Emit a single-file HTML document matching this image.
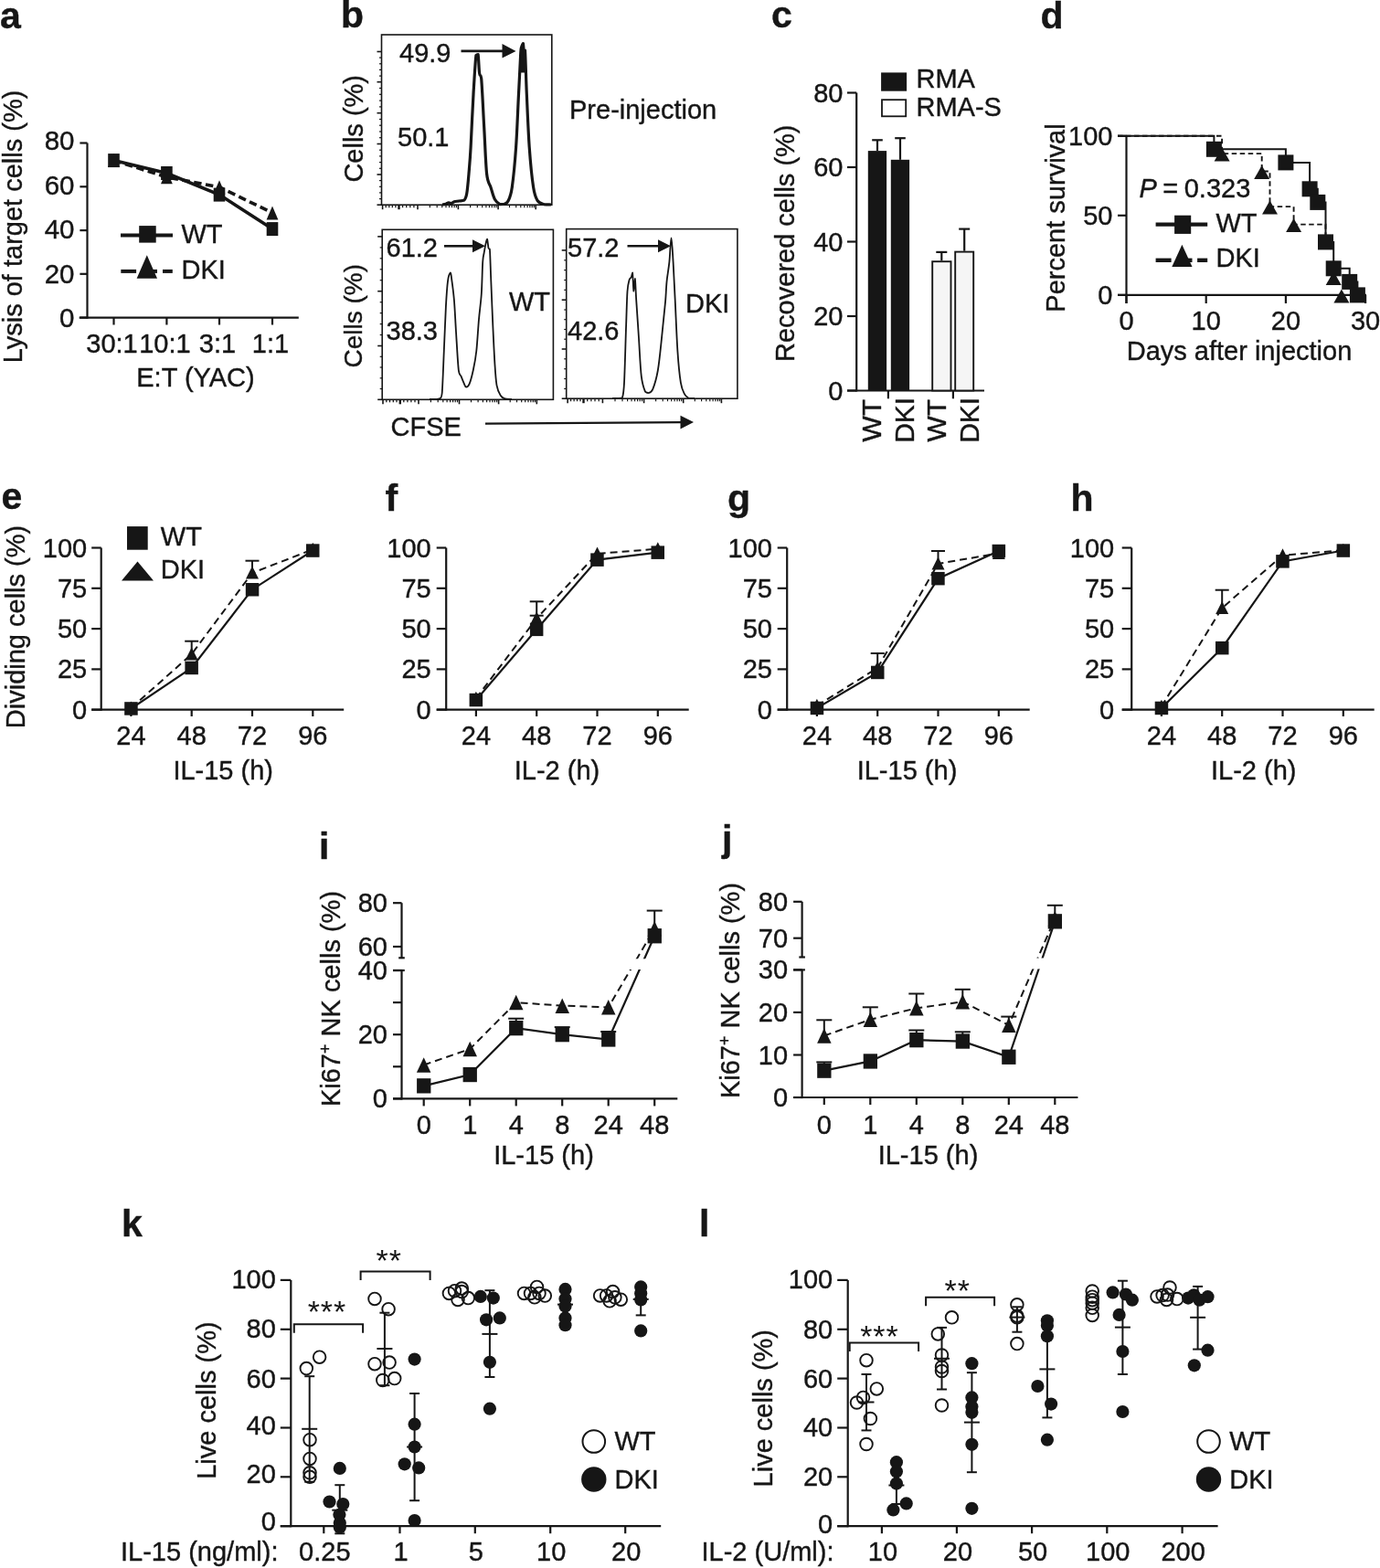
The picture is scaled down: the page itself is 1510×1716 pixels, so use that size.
<!DOCTYPE html>
<html><head><meta charset="utf-8"><title>Figure</title>
<style>html,body{margin:0;padding:0;background:#fff;}svg{display:block;}.ast{stroke-width:0;}</style></head>
<body>
<svg width="1510" height="1716" viewBox="0 0 1510 1716" font-family="'Liberation Sans', Arial, Helvetica, sans-serif" fill="#161616" stroke="#161616">
<rect x="0" y="0" width="1510" height="1716" fill="#fff" stroke="none"/>
<g>
<text stroke-width="0.4" x="0.0" y="31.0" font-size="41" font-weight="bold">a</text>
<line x1="95.5" y1="156.5" x2="95.5" y2="348.7" stroke-width="2.2" stroke-linecap="butt"/>
<line x1="86.7" y1="347.6" x2="326.8" y2="347.6" stroke-width="2.2" stroke-linecap="butt"/>
<line x1="87.4" y1="347.6" x2="95.5" y2="347.6" stroke-width="2.2" stroke-linecap="butt"/>
<text stroke-width="0.4" x="81.5" y="357.9" font-size="29.5" text-anchor="end">0</text>
<line x1="87.4" y1="299.8" x2="95.5" y2="299.8" stroke-width="2.2" stroke-linecap="butt"/>
<text stroke-width="0.4" x="81.5" y="309.6" font-size="29.5" text-anchor="end">20</text>
<line x1="87.4" y1="252.1" x2="95.5" y2="252.1" stroke-width="2.2" stroke-linecap="butt"/>
<text stroke-width="0.4" x="81.5" y="261.2" font-size="29.5" text-anchor="end">40</text>
<line x1="87.4" y1="204.3" x2="95.5" y2="204.3" stroke-width="2.2" stroke-linecap="butt"/>
<text stroke-width="0.4" x="81.5" y="212.5" font-size="29.5" text-anchor="end">60</text>
<line x1="87.4" y1="156.5" x2="95.5" y2="156.5" stroke-width="2.2" stroke-linecap="butt"/>
<text stroke-width="0.4" x="81.5" y="164.1" font-size="29.5" text-anchor="end">80</text>
<line x1="124.5" y1="347.6" x2="124.5" y2="355.5" stroke-width="2.2" stroke-linecap="butt"/>
<line x1="182.4" y1="347.6" x2="182.4" y2="355.5" stroke-width="2.2" stroke-linecap="butt"/>
<line x1="240.0" y1="347.6" x2="240.0" y2="355.5" stroke-width="2.2" stroke-linecap="butt"/>
<line x1="298.0" y1="347.6" x2="298.0" y2="355.5" stroke-width="2.2" stroke-linecap="butt"/>
<text stroke-width="0.4" x="122.5" y="385.5" font-size="29" text-anchor="middle">30:1</text>
<text stroke-width="0.4" x="180.4" y="385.5" font-size="29" text-anchor="middle">10:1</text>
<text stroke-width="0.4" x="238.0" y="385.5" font-size="29" text-anchor="middle">3:1</text>
<text stroke-width="0.4" x="296.0" y="385.5" font-size="29" text-anchor="middle">1:1</text>
<text stroke-width="0.4" x="214.0" y="422.5" font-size="29" text-anchor="middle">E:T (YAC)</text>
<text stroke-width="0.4" x="24.0" y="248.0" font-size="29" text-anchor="middle" transform="rotate(-90 24.0 248.0)">Lysis of target cells (%)</text>
<polyline points="124.5,175.6 182.4,193.8 240.0,204.8 298.0,232.9" fill="none" stroke-width="3.6" stroke-dasharray="8.5,4.5" stroke-linejoin="miter"/>
<polygon points="124.5,168.1 130.9,183.1 118.1,183.1" fill="#161616" stroke="none"/>
<polygon points="182.4,186.3 188.8,201.3 176.0,201.3" fill="#161616" stroke="none"/>
<polygon points="240.0,197.3 246.4,212.3 233.6,212.3" fill="#161616" stroke="none"/>
<polygon points="298.0,225.4 304.4,240.4 291.6,240.4" fill="#161616" stroke="none"/>
<polyline points="124.5,175.6 182.4,189.5 240.0,213.1 298.0,250.6" fill="none" stroke-width="3.6" stroke-linejoin="miter"/>
<rect x="118.2" y="168.1" width="12.6" height="15.0" fill="#161616" stroke="none" stroke-width="0"/>
<rect x="176.1" y="182.0" width="12.6" height="15.0" fill="#161616" stroke="none" stroke-width="0"/>
<rect x="233.7" y="205.6" width="12.6" height="15.0" fill="#161616" stroke="none" stroke-width="0"/>
<rect x="291.7" y="243.1" width="12.6" height="15.0" fill="#161616" stroke="none" stroke-width="0"/>
<line x1="132.0" y1="257.6" x2="189.0" y2="257.6" stroke-width="4" stroke-linecap="butt"/>
<rect x="152.2" y="247.1" width="18.5" height="18.5" fill="#161616" stroke="none"/>
<line x1="132.3" y1="296.9" x2="149.1" y2="296.9" stroke-width="4" stroke-linecap="butt"/>
<line x1="160.0" y1="296.9" x2="172.0" y2="296.9" stroke-width="4" stroke-linecap="butt"/>
<line x1="178.0" y1="296.9" x2="188.8" y2="296.9" stroke-width="4" stroke-linecap="butt"/>
<polygon points="160.8,279.2 172.0,304.8 149.6,304.8" fill="#161616" stroke="none"/>
<text stroke-width="0.4" x="198.5" y="266.0" font-size="29">WT</text>
<text stroke-width="0.4" x="198.5" y="305.0" font-size="29">DKI</text>
<text stroke-width="0.4" x="373.0" y="30.0" font-size="41" font-weight="bold">b</text>
<rect x="417.5" y="38" width="186.29999999999995" height="186.2" fill="none" stroke-width="1.6"/>
<line x1="412.5" y1="56.5" x2="417.5" y2="56.5" stroke-width="1.6" stroke-linecap="butt"/>
<line x1="412.5" y1="89.7" x2="417.5" y2="89.7" stroke-width="1.6" stroke-linecap="butt"/>
<line x1="412.5" y1="123.7" x2="417.5" y2="123.7" stroke-width="1.6" stroke-linecap="butt"/>
<line x1="412.5" y1="157.5" x2="417.5" y2="157.5" stroke-width="1.6" stroke-linecap="butt"/>
<line x1="412.5" y1="191.0" x2="417.5" y2="191.0" stroke-width="1.6" stroke-linecap="butt"/>
<line x1="412.5" y1="224.2" x2="417.5" y2="224.2" stroke-width="1.6" stroke-linecap="butt"/>
<line x1="415.0" y1="63.1" x2="417.5" y2="63.1" stroke-width="1.2" stroke-linecap="butt"/>
<line x1="415.0" y1="69.8" x2="417.5" y2="69.8" stroke-width="1.2" stroke-linecap="butt"/>
<line x1="415.0" y1="76.4" x2="417.5" y2="76.4" stroke-width="1.2" stroke-linecap="butt"/>
<line x1="415.0" y1="83.1" x2="417.5" y2="83.1" stroke-width="1.2" stroke-linecap="butt"/>
<line x1="415.0" y1="96.5" x2="417.5" y2="96.5" stroke-width="1.2" stroke-linecap="butt"/>
<line x1="415.0" y1="103.3" x2="417.5" y2="103.3" stroke-width="1.2" stroke-linecap="butt"/>
<line x1="415.0" y1="110.1" x2="417.5" y2="110.1" stroke-width="1.2" stroke-linecap="butt"/>
<line x1="415.0" y1="116.9" x2="417.5" y2="116.9" stroke-width="1.2" stroke-linecap="butt"/>
<line x1="415.0" y1="130.5" x2="417.5" y2="130.5" stroke-width="1.2" stroke-linecap="butt"/>
<line x1="415.0" y1="137.2" x2="417.5" y2="137.2" stroke-width="1.2" stroke-linecap="butt"/>
<line x1="415.0" y1="144.0" x2="417.5" y2="144.0" stroke-width="1.2" stroke-linecap="butt"/>
<line x1="415.0" y1="150.7" x2="417.5" y2="150.7" stroke-width="1.2" stroke-linecap="butt"/>
<line x1="415.0" y1="164.2" x2="417.5" y2="164.2" stroke-width="1.2" stroke-linecap="butt"/>
<line x1="415.0" y1="170.9" x2="417.5" y2="170.9" stroke-width="1.2" stroke-linecap="butt"/>
<line x1="415.0" y1="177.6" x2="417.5" y2="177.6" stroke-width="1.2" stroke-linecap="butt"/>
<line x1="415.0" y1="184.3" x2="417.5" y2="184.3" stroke-width="1.2" stroke-linecap="butt"/>
<line x1="415.0" y1="197.6" x2="417.5" y2="197.6" stroke-width="1.2" stroke-linecap="butt"/>
<line x1="415.0" y1="204.3" x2="417.5" y2="204.3" stroke-width="1.2" stroke-linecap="butt"/>
<line x1="415.0" y1="210.9" x2="417.5" y2="210.9" stroke-width="1.2" stroke-linecap="butt"/>
<line x1="415.0" y1="217.6" x2="417.5" y2="217.6" stroke-width="1.2" stroke-linecap="butt"/>
<line x1="418.6" y1="224.2" x2="418.6" y2="229.2" stroke-width="1.6" stroke-linecap="butt"/>
<line x1="436.5" y1="224.2" x2="436.5" y2="229.2" stroke-width="2.4" stroke-linecap="butt"/>
<line x1="457.0" y1="224.2" x2="457.0" y2="229.2" stroke-width="1.6" stroke-linecap="butt"/>
<line x1="501.4" y1="224.2" x2="501.4" y2="229.2" stroke-width="1.6" stroke-linecap="butt"/>
<line x1="545.1" y1="224.2" x2="545.1" y2="229.2" stroke-width="1.6" stroke-linecap="butt"/>
<line x1="586.2" y1="224.2" x2="586.2" y2="229.2" stroke-width="1.6" stroke-linecap="butt"/>
<line x1="422.2" y1="224.2" x2="422.2" y2="227.2" stroke-width="1.3" stroke-linecap="butt"/>
<line x1="425.8" y1="224.2" x2="425.8" y2="227.2" stroke-width="1.3" stroke-linecap="butt"/>
<line x1="429.3" y1="224.2" x2="429.3" y2="227.2" stroke-width="1.3" stroke-linecap="butt"/>
<line x1="432.9" y1="224.2" x2="432.9" y2="227.2" stroke-width="1.3" stroke-linecap="butt"/>
<line x1="440.6" y1="224.2" x2="440.6" y2="227.2" stroke-width="1.3" stroke-linecap="butt"/>
<line x1="444.7" y1="224.2" x2="444.7" y2="227.2" stroke-width="1.3" stroke-linecap="butt"/>
<line x1="448.8" y1="224.2" x2="448.8" y2="227.2" stroke-width="1.3" stroke-linecap="butt"/>
<line x1="452.9" y1="224.2" x2="452.9" y2="227.2" stroke-width="1.3" stroke-linecap="butt"/>
<line x1="470.4" y1="224.2" x2="470.4" y2="227.2" stroke-width="1.2" stroke-linecap="butt"/>
<line x1="478.2" y1="224.2" x2="478.2" y2="227.2" stroke-width="1.2" stroke-linecap="butt"/>
<line x1="483.7" y1="224.2" x2="483.7" y2="227.2" stroke-width="1.2" stroke-linecap="butt"/>
<line x1="488.0" y1="224.2" x2="488.0" y2="227.2" stroke-width="1.2" stroke-linecap="butt"/>
<line x1="491.5" y1="224.2" x2="491.5" y2="227.2" stroke-width="1.2" stroke-linecap="butt"/>
<line x1="494.5" y1="224.2" x2="494.5" y2="227.2" stroke-width="1.2" stroke-linecap="butt"/>
<line x1="497.1" y1="224.2" x2="497.1" y2="227.2" stroke-width="1.2" stroke-linecap="butt"/>
<line x1="499.4" y1="224.2" x2="499.4" y2="227.2" stroke-width="1.2" stroke-linecap="butt"/>
<line x1="514.6" y1="224.2" x2="514.6" y2="227.2" stroke-width="1.2" stroke-linecap="butt"/>
<line x1="522.3" y1="224.2" x2="522.3" y2="227.2" stroke-width="1.2" stroke-linecap="butt"/>
<line x1="527.7" y1="224.2" x2="527.7" y2="227.2" stroke-width="1.2" stroke-linecap="butt"/>
<line x1="531.9" y1="224.2" x2="531.9" y2="227.2" stroke-width="1.2" stroke-linecap="butt"/>
<line x1="535.4" y1="224.2" x2="535.4" y2="227.2" stroke-width="1.2" stroke-linecap="butt"/>
<line x1="538.3" y1="224.2" x2="538.3" y2="227.2" stroke-width="1.2" stroke-linecap="butt"/>
<line x1="540.9" y1="224.2" x2="540.9" y2="227.2" stroke-width="1.2" stroke-linecap="butt"/>
<line x1="543.1" y1="224.2" x2="543.1" y2="227.2" stroke-width="1.2" stroke-linecap="butt"/>
<line x1="557.5" y1="224.2" x2="557.5" y2="227.2" stroke-width="1.2" stroke-linecap="butt"/>
<line x1="564.7" y1="224.2" x2="564.7" y2="227.2" stroke-width="1.2" stroke-linecap="butt"/>
<line x1="569.8" y1="224.2" x2="569.8" y2="227.2" stroke-width="1.2" stroke-linecap="butt"/>
<line x1="573.8" y1="224.2" x2="573.8" y2="227.2" stroke-width="1.2" stroke-linecap="butt"/>
<line x1="577.1" y1="224.2" x2="577.1" y2="227.2" stroke-width="1.2" stroke-linecap="butt"/>
<line x1="579.8" y1="224.2" x2="579.8" y2="227.2" stroke-width="1.2" stroke-linecap="butt"/>
<line x1="582.2" y1="224.2" x2="582.2" y2="227.2" stroke-width="1.2" stroke-linecap="butt"/>
<line x1="584.3" y1="224.2" x2="584.3" y2="227.2" stroke-width="1.2" stroke-linecap="butt"/>
<path d="M484.0,224.0 C484.7,223.9 486.8,223.6 488.0,223.2 C489.2,222.8 490.0,221.9 491.0,221.8 C492.0,221.8 493.0,222.6 494.0,222.6 C495.0,222.4 495.7,221.2 497.0,220.8 C498.3,220.4 500.2,220.3 502.0,220.0 C503.8,219.7 506.4,220.0 507.8,219.2 C509.2,217.9 509.8,216.9 510.7,212.0 C511.6,207.1 512.3,198.5 513.0,190.0 C513.7,181.5 514.3,175.5 515.1,161.0 C515.9,146.5 517.0,119.5 518.0,102.8 C519.0,86.1 520.0,67.8 520.9,60.6 C521.8,59.5 522.5,59.5 523.1,59.5 C523.7,62.7 524.0,75.6 524.6,80.0 C525.2,84.4 525.9,80.0 526.7,86.0 C527.6,95.9 528.7,121.9 529.7,139.3 C530.7,156.7 531.4,179.4 532.6,190.3 C533.8,201.2 535.5,200.4 537.0,205.0 C538.5,209.6 539.6,214.8 541.3,217.9 C543.0,221.0 545.3,222.7 547.1,223.6 C548.9,223.6 550.5,223.6 552.0,223.2 C553.5,222.6 554.6,223.0 556.0,220.0 C557.4,217.0 558.9,214.8 560.3,205.0 C561.7,195.2 563.4,178.0 564.6,161.0 C565.8,144.0 566.6,119.8 567.5,102.8 C568.4,85.8 569.2,67.5 569.7,59.0 C570.2,52.0 570.0,53.9 570.5,52.0 C571.0,50.1 571.9,47.5 572.4,47.5 C572.9,49.2 573.1,60.8 573.5,62.0 C573.9,62.0 574.0,55.0 574.5,55.0 C575.0,61.8 575.5,85.1 576.3,102.8 C577.1,120.5 578.0,144.0 579.2,161.0 C580.4,178.0 582.1,195.1 583.6,204.8 C585.1,214.5 586.1,216.3 588.0,219.4 C589.9,222.5 592.7,222.8 595.2,223.6 C597.7,224.0 601.7,223.9 603.0,224.0" fill="none" stroke-width="3.2" stroke-linejoin="round"/>
<polygon points="568.6,79.5 569.6,56 571.6,47.6 573.9,48.3 575.2,79.5" fill="#161616" stroke="none"/>
<text stroke-width="0.4" x="437.0" y="68.0" font-size="29">49.9</text>
<text stroke-width="0.4" x="435.0" y="159.5" font-size="29">50.1</text>
<line x1="504.5" y1="55.9" x2="550.5" y2="55.9" stroke-width="2.6" stroke-linecap="butt"/>
<polygon points="564.5,55.9 549.5,48.1 549.5,63.6" fill="#161616" stroke="none"/>
<text stroke-width="0.4" x="623.0" y="129.5" font-size="29">Pre-injection</text>
<text stroke-width="0.4" x="397.0" y="140.8" font-size="29" text-anchor="middle" transform="rotate(-90 397.0 140.8)">Cells (%)</text>
<rect x="418.2" y="251.3" width="187.2" height="186.0" fill="none" stroke-width="1.6"/>
<line x1="413.2" y1="258.9" x2="418.2" y2="258.9" stroke-width="1.6" stroke-linecap="butt"/>
<line x1="413.2" y1="318.7" x2="418.2" y2="318.7" stroke-width="1.6" stroke-linecap="butt"/>
<line x1="413.2" y1="378.5" x2="418.2" y2="378.5" stroke-width="1.6" stroke-linecap="butt"/>
<line x1="413.2" y1="437.3" x2="418.2" y2="437.3" stroke-width="1.6" stroke-linecap="butt"/>
<line x1="415.7" y1="270.9" x2="418.2" y2="270.9" stroke-width="1.2" stroke-linecap="butt"/>
<line x1="415.7" y1="282.8" x2="418.2" y2="282.8" stroke-width="1.2" stroke-linecap="butt"/>
<line x1="415.7" y1="294.8" x2="418.2" y2="294.8" stroke-width="1.2" stroke-linecap="butt"/>
<line x1="415.7" y1="306.7" x2="418.2" y2="306.7" stroke-width="1.2" stroke-linecap="butt"/>
<line x1="415.7" y1="330.7" x2="418.2" y2="330.7" stroke-width="1.2" stroke-linecap="butt"/>
<line x1="415.7" y1="342.6" x2="418.2" y2="342.6" stroke-width="1.2" stroke-linecap="butt"/>
<line x1="415.7" y1="354.6" x2="418.2" y2="354.6" stroke-width="1.2" stroke-linecap="butt"/>
<line x1="415.7" y1="366.5" x2="418.2" y2="366.5" stroke-width="1.2" stroke-linecap="butt"/>
<line x1="415.7" y1="390.3" x2="418.2" y2="390.3" stroke-width="1.2" stroke-linecap="butt"/>
<line x1="415.7" y1="402.0" x2="418.2" y2="402.0" stroke-width="1.2" stroke-linecap="butt"/>
<line x1="415.7" y1="413.8" x2="418.2" y2="413.8" stroke-width="1.2" stroke-linecap="butt"/>
<line x1="415.7" y1="425.5" x2="418.2" y2="425.5" stroke-width="1.2" stroke-linecap="butt"/>
<line x1="419.0" y1="437.3" x2="419.0" y2="442.3" stroke-width="1.6" stroke-linecap="butt"/>
<line x1="437.8" y1="437.3" x2="437.8" y2="442.3" stroke-width="2.4" stroke-linecap="butt"/>
<line x1="458.0" y1="437.3" x2="458.0" y2="442.3" stroke-width="1.6" stroke-linecap="butt"/>
<line x1="502.5" y1="437.3" x2="502.5" y2="442.3" stroke-width="1.6" stroke-linecap="butt"/>
<line x1="545.6" y1="437.3" x2="545.6" y2="442.3" stroke-width="1.6" stroke-linecap="butt"/>
<line x1="587.3" y1="437.3" x2="587.3" y2="442.3" stroke-width="1.6" stroke-linecap="butt"/>
<line x1="422.8" y1="437.3" x2="422.8" y2="440.3" stroke-width="1.3" stroke-linecap="butt"/>
<line x1="426.5" y1="437.3" x2="426.5" y2="440.3" stroke-width="1.3" stroke-linecap="butt"/>
<line x1="430.3" y1="437.3" x2="430.3" y2="440.3" stroke-width="1.3" stroke-linecap="butt"/>
<line x1="434.0" y1="437.3" x2="434.0" y2="440.3" stroke-width="1.3" stroke-linecap="butt"/>
<line x1="441.8" y1="437.3" x2="441.8" y2="440.3" stroke-width="1.3" stroke-linecap="butt"/>
<line x1="445.9" y1="437.3" x2="445.9" y2="440.3" stroke-width="1.3" stroke-linecap="butt"/>
<line x1="449.9" y1="437.3" x2="449.9" y2="440.3" stroke-width="1.3" stroke-linecap="butt"/>
<line x1="454.0" y1="437.3" x2="454.0" y2="440.3" stroke-width="1.3" stroke-linecap="butt"/>
<line x1="471.4" y1="437.3" x2="471.4" y2="440.3" stroke-width="1.2" stroke-linecap="butt"/>
<line x1="479.2" y1="437.3" x2="479.2" y2="440.3" stroke-width="1.2" stroke-linecap="butt"/>
<line x1="484.8" y1="437.3" x2="484.8" y2="440.3" stroke-width="1.2" stroke-linecap="butt"/>
<line x1="489.1" y1="437.3" x2="489.1" y2="440.3" stroke-width="1.2" stroke-linecap="butt"/>
<line x1="492.6" y1="437.3" x2="492.6" y2="440.3" stroke-width="1.2" stroke-linecap="butt"/>
<line x1="495.6" y1="437.3" x2="495.6" y2="440.3" stroke-width="1.2" stroke-linecap="butt"/>
<line x1="498.2" y1="437.3" x2="498.2" y2="440.3" stroke-width="1.2" stroke-linecap="butt"/>
<line x1="500.5" y1="437.3" x2="500.5" y2="440.3" stroke-width="1.2" stroke-linecap="butt"/>
<line x1="515.5" y1="437.3" x2="515.5" y2="440.3" stroke-width="1.2" stroke-linecap="butt"/>
<line x1="523.1" y1="437.3" x2="523.1" y2="440.3" stroke-width="1.2" stroke-linecap="butt"/>
<line x1="528.4" y1="437.3" x2="528.4" y2="440.3" stroke-width="1.2" stroke-linecap="butt"/>
<line x1="532.6" y1="437.3" x2="532.6" y2="440.3" stroke-width="1.2" stroke-linecap="butt"/>
<line x1="536.0" y1="437.3" x2="536.0" y2="440.3" stroke-width="1.2" stroke-linecap="butt"/>
<line x1="538.9" y1="437.3" x2="538.9" y2="440.3" stroke-width="1.2" stroke-linecap="butt"/>
<line x1="541.4" y1="437.3" x2="541.4" y2="440.3" stroke-width="1.2" stroke-linecap="butt"/>
<line x1="543.6" y1="437.3" x2="543.6" y2="440.3" stroke-width="1.2" stroke-linecap="butt"/>
<line x1="558.2" y1="437.3" x2="558.2" y2="440.3" stroke-width="1.2" stroke-linecap="butt"/>
<line x1="565.5" y1="437.3" x2="565.5" y2="440.3" stroke-width="1.2" stroke-linecap="butt"/>
<line x1="570.7" y1="437.3" x2="570.7" y2="440.3" stroke-width="1.2" stroke-linecap="butt"/>
<line x1="574.7" y1="437.3" x2="574.7" y2="440.3" stroke-width="1.2" stroke-linecap="butt"/>
<line x1="578.0" y1="437.3" x2="578.0" y2="440.3" stroke-width="1.2" stroke-linecap="butt"/>
<line x1="580.8" y1="437.3" x2="580.8" y2="440.3" stroke-width="1.2" stroke-linecap="butt"/>
<line x1="583.3" y1="437.3" x2="583.3" y2="440.3" stroke-width="1.2" stroke-linecap="butt"/>
<line x1="585.4" y1="437.3" x2="585.4" y2="440.3" stroke-width="1.2" stroke-linecap="butt"/>
<path d="M470.0,437.0 C471.3,437.0 476.1,437.0 478.0,436.8 C479.9,436.6 480.7,436.8 481.6,436.0 C482.6,434.9 483.0,436.0 483.7,430.0 C484.4,421.3 485.1,399.8 485.8,384.0 C486.5,368.2 487.2,348.1 487.9,335.4 C488.6,322.7 489.2,313.8 490.0,307.6 C490.8,301.5 492.1,299.0 492.8,298.5 C493.5,298.5 493.4,299.8 494.1,304.8 C494.8,309.8 496.1,318.7 496.9,328.4 C497.7,338.1 498.2,350.4 499.0,363.2 C499.8,376.0 500.9,396.9 501.8,405.0 C502.7,411.9 503.7,409.6 504.6,411.9 C505.5,414.2 506.5,416.9 507.4,418.9 C508.3,420.9 509.1,423.5 510.1,423.7 C511.1,423.7 512.3,423.3 513.6,420.2 C514.9,417.1 516.5,411.0 517.8,405.0 C519.1,399.0 520.3,393.3 521.3,384.0 C522.3,374.7 523.1,359.7 524.0,349.3 C524.9,338.9 526.1,331.9 526.8,321.5 C527.5,311.1 527.7,294.1 528.2,286.7 C528.7,279.3 529.0,280.5 529.6,277.0 C530.2,273.5 531.1,268.4 531.7,265.9 C532.3,263.3 532.6,261.7 533.1,261.7 C533.6,262.6 534.0,269.5 534.5,271.4 C535.0,272.8 535.4,271.4 535.9,272.8 C536.4,278.8 536.7,293.7 537.3,307.6 C537.9,321.5 538.6,341.2 539.3,356.3 C540.0,371.4 540.7,387.1 541.4,398.0 C542.1,408.9 542.5,415.8 543.5,421.6 C544.5,427.4 546.3,430.4 547.7,432.8 C549.1,435.2 549.9,435.5 551.9,436.2 C553.9,436.9 558.6,436.9 560.0,437.0" fill="none" stroke-width="1.8" stroke-linejoin="round"/>
<text stroke-width="0.4" x="422.5" y="281.2" font-size="29">61.2</text>
<text stroke-width="0.4" x="422.5" y="371.8" font-size="29">38.3</text>
<line x1="486.0" y1="269.3" x2="518.0" y2="269.3" stroke-width="2.6" stroke-linecap="butt"/>
<polygon points="531.0,269.3 517.0,262.3 517.0,276.3" fill="#161616" stroke="none"/>
<text stroke-width="0.4" x="557.0" y="339.8" font-size="29">WT</text>
<rect x="619.7" y="250.6" width="187.19999999999993" height="185.6" fill="none" stroke-width="1.6"/>
<line x1="614.7" y1="273.9" x2="619.7" y2="273.9" stroke-width="1.6" stroke-linecap="butt"/>
<line x1="614.7" y1="328.2" x2="619.7" y2="328.2" stroke-width="1.6" stroke-linecap="butt"/>
<line x1="614.7" y1="382.0" x2="619.7" y2="382.0" stroke-width="1.6" stroke-linecap="butt"/>
<line x1="614.7" y1="436.2" x2="619.7" y2="436.2" stroke-width="1.6" stroke-linecap="butt"/>
<line x1="617.2" y1="284.8" x2="619.7" y2="284.8" stroke-width="1.2" stroke-linecap="butt"/>
<line x1="617.2" y1="295.6" x2="619.7" y2="295.6" stroke-width="1.2" stroke-linecap="butt"/>
<line x1="617.2" y1="306.5" x2="619.7" y2="306.5" stroke-width="1.2" stroke-linecap="butt"/>
<line x1="617.2" y1="317.3" x2="619.7" y2="317.3" stroke-width="1.2" stroke-linecap="butt"/>
<line x1="617.2" y1="339.0" x2="619.7" y2="339.0" stroke-width="1.2" stroke-linecap="butt"/>
<line x1="617.2" y1="349.7" x2="619.7" y2="349.7" stroke-width="1.2" stroke-linecap="butt"/>
<line x1="617.2" y1="360.5" x2="619.7" y2="360.5" stroke-width="1.2" stroke-linecap="butt"/>
<line x1="617.2" y1="371.2" x2="619.7" y2="371.2" stroke-width="1.2" stroke-linecap="butt"/>
<line x1="617.2" y1="392.8" x2="619.7" y2="392.8" stroke-width="1.2" stroke-linecap="butt"/>
<line x1="617.2" y1="403.7" x2="619.7" y2="403.7" stroke-width="1.2" stroke-linecap="butt"/>
<line x1="617.2" y1="414.5" x2="619.7" y2="414.5" stroke-width="1.2" stroke-linecap="butt"/>
<line x1="617.2" y1="425.4" x2="619.7" y2="425.4" stroke-width="1.2" stroke-linecap="butt"/>
<line x1="621.1" y1="436.2" x2="621.1" y2="441.2" stroke-width="1.6" stroke-linecap="butt"/>
<line x1="638.5" y1="436.2" x2="638.5" y2="441.2" stroke-width="2.4" stroke-linecap="butt"/>
<line x1="659.4" y1="436.2" x2="659.4" y2="441.2" stroke-width="1.6" stroke-linecap="butt"/>
<line x1="704.6" y1="436.2" x2="704.6" y2="441.2" stroke-width="1.6" stroke-linecap="butt"/>
<line x1="747.7" y1="436.2" x2="747.7" y2="441.2" stroke-width="1.6" stroke-linecap="butt"/>
<line x1="789.4" y1="436.2" x2="789.4" y2="441.2" stroke-width="1.6" stroke-linecap="butt"/>
<line x1="624.6" y1="436.2" x2="624.6" y2="439.2" stroke-width="1.3" stroke-linecap="butt"/>
<line x1="628.1" y1="436.2" x2="628.1" y2="439.2" stroke-width="1.3" stroke-linecap="butt"/>
<line x1="631.5" y1="436.2" x2="631.5" y2="439.2" stroke-width="1.3" stroke-linecap="butt"/>
<line x1="635.0" y1="436.2" x2="635.0" y2="439.2" stroke-width="1.3" stroke-linecap="butt"/>
<line x1="642.7" y1="436.2" x2="642.7" y2="439.2" stroke-width="1.3" stroke-linecap="butt"/>
<line x1="646.9" y1="436.2" x2="646.9" y2="439.2" stroke-width="1.3" stroke-linecap="butt"/>
<line x1="651.0" y1="436.2" x2="651.0" y2="439.2" stroke-width="1.3" stroke-linecap="butt"/>
<line x1="655.2" y1="436.2" x2="655.2" y2="439.2" stroke-width="1.3" stroke-linecap="butt"/>
<line x1="673.0" y1="436.2" x2="673.0" y2="439.2" stroke-width="1.2" stroke-linecap="butt"/>
<line x1="681.0" y1="436.2" x2="681.0" y2="439.2" stroke-width="1.2" stroke-linecap="butt"/>
<line x1="686.6" y1="436.2" x2="686.6" y2="439.2" stroke-width="1.2" stroke-linecap="butt"/>
<line x1="691.0" y1="436.2" x2="691.0" y2="439.2" stroke-width="1.2" stroke-linecap="butt"/>
<line x1="694.6" y1="436.2" x2="694.6" y2="439.2" stroke-width="1.2" stroke-linecap="butt"/>
<line x1="697.6" y1="436.2" x2="697.6" y2="439.2" stroke-width="1.2" stroke-linecap="butt"/>
<line x1="700.2" y1="436.2" x2="700.2" y2="439.2" stroke-width="1.2" stroke-linecap="butt"/>
<line x1="702.5" y1="436.2" x2="702.5" y2="439.2" stroke-width="1.2" stroke-linecap="butt"/>
<line x1="717.6" y1="436.2" x2="717.6" y2="439.2" stroke-width="1.2" stroke-linecap="butt"/>
<line x1="725.2" y1="436.2" x2="725.2" y2="439.2" stroke-width="1.2" stroke-linecap="butt"/>
<line x1="730.5" y1="436.2" x2="730.5" y2="439.2" stroke-width="1.2" stroke-linecap="butt"/>
<line x1="734.7" y1="436.2" x2="734.7" y2="439.2" stroke-width="1.2" stroke-linecap="butt"/>
<line x1="738.1" y1="436.2" x2="738.1" y2="439.2" stroke-width="1.2" stroke-linecap="butt"/>
<line x1="741.0" y1="436.2" x2="741.0" y2="439.2" stroke-width="1.2" stroke-linecap="butt"/>
<line x1="743.5" y1="436.2" x2="743.5" y2="439.2" stroke-width="1.2" stroke-linecap="butt"/>
<line x1="745.7" y1="436.2" x2="745.7" y2="439.2" stroke-width="1.2" stroke-linecap="butt"/>
<line x1="760.3" y1="436.2" x2="760.3" y2="439.2" stroke-width="1.2" stroke-linecap="butt"/>
<line x1="767.6" y1="436.2" x2="767.6" y2="439.2" stroke-width="1.2" stroke-linecap="butt"/>
<line x1="772.8" y1="436.2" x2="772.8" y2="439.2" stroke-width="1.2" stroke-linecap="butt"/>
<line x1="776.8" y1="436.2" x2="776.8" y2="439.2" stroke-width="1.2" stroke-linecap="butt"/>
<line x1="780.1" y1="436.2" x2="780.1" y2="439.2" stroke-width="1.2" stroke-linecap="butt"/>
<line x1="782.9" y1="436.2" x2="782.9" y2="439.2" stroke-width="1.2" stroke-linecap="butt"/>
<line x1="785.4" y1="436.2" x2="785.4" y2="439.2" stroke-width="1.2" stroke-linecap="butt"/>
<line x1="787.5" y1="436.2" x2="787.5" y2="439.2" stroke-width="1.2" stroke-linecap="butt"/>
<path d="M670.0,436.0 C671.3,436.0 676.2,435.9 678.0,435.8 C679.8,435.7 680.1,435.8 680.9,435.3 C681.7,432.5 682.3,432.1 683.0,418.9 C683.7,405.7 684.5,373.0 685.1,356.3 C685.7,339.6 685.9,327.1 686.5,318.7 C687.1,310.3 687.9,308.8 688.6,306.2 C689.3,303.6 690.1,304.7 690.7,303.4 C691.3,302.1 691.7,298.5 692.1,298.5 C692.5,301.1 693.0,317.6 693.4,318.7 C693.8,318.7 694.3,304.8 694.8,304.8 C695.3,306.4 695.5,317.5 696.2,328.4 C696.9,339.3 698.1,356.3 699.0,370.2 C699.9,384.1 700.6,402.2 701.8,411.9 C703.0,421.6 704.7,425.6 706.0,428.6 C707.3,430.0 708.0,430.0 709.4,430.0 C710.8,429.5 712.5,430.0 714.3,425.8 C716.0,421.6 718.3,414.3 719.9,405.0 C721.5,395.7 722.9,380.6 724.0,370.2 C725.1,359.8 726.1,349.4 726.8,342.4 C727.5,335.4 727.7,334.2 728.2,328.4 C728.7,322.6 728.9,314.6 729.6,307.6 C730.3,300.7 731.6,294.6 732.4,286.7 C733.2,278.8 733.8,260.3 734.5,260.3 C735.2,260.3 735.9,275.4 736.6,286.7 C737.3,298.0 737.9,312.2 738.7,328.4 C739.5,344.6 740.4,369.0 741.4,384.1 C742.4,399.2 743.6,411.0 744.9,418.9 C746.2,426.8 747.7,428.6 749.1,431.4 C750.5,434.2 751.5,434.7 753.3,435.5 C755.1,436.0 758.9,435.9 760.0,436.0" fill="none" stroke-width="1.8" stroke-linejoin="round"/>
<text stroke-width="0.4" x="621.0" y="281.2" font-size="29">57.2</text>
<text stroke-width="0.4" x="621.0" y="372.2" font-size="29">42.6</text>
<line x1="686.5" y1="269.3" x2="721.0" y2="269.3" stroke-width="2.6" stroke-linecap="butt"/>
<polygon points="734.0,269.3 720.0,262.3 720.0,276.3" fill="#161616" stroke="none"/>
<text stroke-width="0.4" x="750.0" y="342.0" font-size="29">DKI</text>
<text stroke-width="0.4" x="396.5" y="345.8" font-size="28" text-anchor="middle" transform="rotate(-90 396.5 345.8)">Cells (%)</text>
<text stroke-width="0.4" x="427.5" y="477.0" font-size="29">CFSE</text>
<line x1="531" y1="463.6" x2="746" y2="462.2" stroke-width="2.2"/>
<polygon points="759,462 744.5,454.8 744.5,469.4" fill="#161616" stroke="none"/>
<text stroke-width="0.4" x="844.0" y="30.0" font-size="41" font-weight="bold">c</text>
<line x1="937.2" y1="101.5" x2="937.2" y2="428.6" stroke-width="2.2" stroke-linecap="butt"/>
<line x1="927.0" y1="427.5" x2="1077.0" y2="427.5" stroke-width="2.2" stroke-linecap="butt"/>
<line x1="927.0" y1="427.5" x2="937.2" y2="427.5" stroke-width="2.2" stroke-linecap="butt"/>
<text stroke-width="0.4" x="922.5" y="437.5" font-size="29" text-anchor="end">0</text>
<line x1="927.0" y1="346.0" x2="937.2" y2="346.0" stroke-width="2.2" stroke-linecap="butt"/>
<text stroke-width="0.4" x="922.5" y="356.0" font-size="29" text-anchor="end">20</text>
<line x1="927.0" y1="264.5" x2="937.2" y2="264.5" stroke-width="2.2" stroke-linecap="butt"/>
<text stroke-width="0.4" x="922.5" y="274.5" font-size="29" text-anchor="end">40</text>
<line x1="927.0" y1="183.0" x2="937.2" y2="183.0" stroke-width="2.2" stroke-linecap="butt"/>
<text stroke-width="0.4" x="922.5" y="193.0" font-size="29" text-anchor="end">60</text>
<line x1="927.0" y1="101.5" x2="937.2" y2="101.5" stroke-width="2.2" stroke-linecap="butt"/>
<text stroke-width="0.4" x="922.5" y="111.5" font-size="29" text-anchor="end">80</text>
<line x1="971.9" y1="427.5" x2="971.9" y2="436.3" stroke-width="2.2" stroke-linecap="butt"/>
<line x1="1042.9" y1="427.5" x2="1042.9" y2="436.3" stroke-width="2.2" stroke-linecap="butt"/>
<line x1="960.0" y1="165.1" x2="960.0" y2="153.3" stroke-width="2.2" stroke-linecap="butt"/>
<line x1="954.2" y1="153.3" x2="965.8" y2="153.3" stroke-width="2.2" stroke-linecap="butt"/>
<rect x="949.8" y="165.1" width="20.3" height="262.4" fill="#161616" stroke="none" stroke-width="0"/>
<line x1="985.0" y1="174.8" x2="985.0" y2="151.2" stroke-width="2.2" stroke-linecap="butt"/>
<line x1="979.2" y1="151.2" x2="990.8" y2="151.2" stroke-width="2.2" stroke-linecap="butt"/>
<rect x="974.8" y="174.8" width="20.3" height="252.7" fill="#161616" stroke="none" stroke-width="0"/>
<line x1="1030.3" y1="285.3" x2="1030.3" y2="275.9" stroke-width="2.2" stroke-linecap="butt"/>
<line x1="1024.3" y1="275.9" x2="1036.3" y2="275.9" stroke-width="2.2" stroke-linecap="butt"/>
<rect x="1020.2" y="286.2" width="20.3" height="141.3" fill="#f5f5f5" stroke="#161616" stroke-width="1.9"/>
<line x1="1055.2" y1="274.7" x2="1055.2" y2="250.6" stroke-width="2.2" stroke-linecap="butt"/>
<line x1="1049.2" y1="250.6" x2="1061.2" y2="250.6" stroke-width="2.2" stroke-linecap="butt"/>
<rect x="1045.2" y="275.6" width="20.0" height="151.9" fill="#f5f5f5" stroke="#161616" stroke-width="1.9"/>
<rect x="964.1" y="79.4" width="28.0" height="20.3" fill="#161616" stroke="none" stroke-width="0"/>
<rect x="965.0" y="109.2" width="26.2" height="18.1" fill="#fff" stroke="#161616" stroke-width="1.8"/>
<text stroke-width="0.4" x="1002.5" y="95.7" font-size="29">RMA</text>
<text stroke-width="0.4" x="1002.5" y="127.2" font-size="29">RMA-S</text>
<text stroke-width="0.4" x="869.0" y="266.2" font-size="29" text-anchor="middle" transform="rotate(-90 869.0 266.2)">Recovered cells (%)</text>
<text stroke-width="0.4" x="964.0" y="483.6" font-size="30" transform="rotate(-90 964.0 483.6)">WT</text>
<text stroke-width="0.4" x="999.6" y="484.8" font-size="30" transform="rotate(-90 999.6 484.8)">DKI</text>
<text stroke-width="0.4" x="1035.5" y="483.6" font-size="30" transform="rotate(-90 1035.5 483.6)">WT</text>
<text stroke-width="0.4" x="1071.1" y="484.8" font-size="30" transform="rotate(-90 1071.1 484.8)">DKI</text>
<text stroke-width="0.4" x="1138.5" y="31.0" font-size="41" font-weight="bold">d</text>
<line x1="1232.5" y1="148.8" x2="1232.5" y2="332.0" stroke-width="2.2" stroke-linecap="butt"/>
<line x1="1223.0" y1="322.9" x2="1495.0" y2="322.9" stroke-width="2.2" stroke-linecap="butt"/>
<line x1="1223.0" y1="322.9" x2="1232.5" y2="322.9" stroke-width="2.2" stroke-linecap="butt"/>
<text stroke-width="0.4" x="1217.5" y="332.9" font-size="29" text-anchor="end">0</text>
<line x1="1223.0" y1="235.8" x2="1232.5" y2="235.8" stroke-width="2.2" stroke-linecap="butt"/>
<text stroke-width="0.4" x="1217.5" y="245.8" font-size="29" text-anchor="end">50</text>
<line x1="1223.0" y1="148.8" x2="1232.5" y2="148.8" stroke-width="2.2" stroke-linecap="butt"/>
<text stroke-width="0.4" x="1217.5" y="158.8" font-size="29" text-anchor="end">100</text>
<line x1="1232.5" y1="322.9" x2="1232.5" y2="332.0" stroke-width="2.2" stroke-linecap="butt"/>
<text stroke-width="0.4" x="1232.5" y="360.5" font-size="29" text-anchor="middle">0</text>
<line x1="1319.7" y1="322.9" x2="1319.7" y2="332.0" stroke-width="2.2" stroke-linecap="butt"/>
<text stroke-width="0.4" x="1319.7" y="360.5" font-size="29" text-anchor="middle">10</text>
<line x1="1406.9" y1="322.9" x2="1406.9" y2="332.0" stroke-width="2.2" stroke-linecap="butt"/>
<text stroke-width="0.4" x="1406.9" y="360.5" font-size="29" text-anchor="middle">20</text>
<line x1="1494.1" y1="322.9" x2="1494.1" y2="332.0" stroke-width="2.2" stroke-linecap="butt"/>
<text stroke-width="0.4" x="1494.1" y="360.5" font-size="29" text-anchor="middle">30</text>
<text stroke-width="0.4" x="1356.0" y="394.0" font-size="29" text-anchor="middle">Days after injection</text>
<text stroke-width="0.4" x="1164.5" y="238.5" font-size="29" text-anchor="middle" transform="rotate(-90 1164.5 238.5)">Percent survival</text>
<polyline points="1223.0,148.8 1337.1,148.8 1337.1,168.1 1380.7,168.1 1380.7,187.5 1389.5,187.5 1389.5,226.1 1415.6,226.1 1415.6,245.6 1450.5,245.6 1450.5,270.7" fill="none" stroke-width="1.9" stroke-dasharray="5.5,3.5" stroke-linejoin="miter"/>
<polygon points="1337.1,161.6 1345.6,176.6 1328.6,176.6" fill="#161616" stroke="none"/>
<polygon points="1380.7,181.0 1389.2,196.0 1372.2,196.0" fill="#161616" stroke="none"/>
<polygon points="1389.5,219.6 1398.0,234.6 1381.0,234.6" fill="#161616" stroke="none"/>
<polygon points="1415.6,239.1 1424.1,254.1 1407.1,254.1" fill="#161616" stroke="none"/>
<polygon points="1459.2,297.1 1467.7,312.1 1450.7,312.1" fill="#161616" stroke="none"/>
<polygon points="1467.9,316.4 1476.4,331.4 1459.4,331.4" fill="#161616" stroke="none"/>
<polyline points="1223.0,148.8 1328.4,148.8 1328.4,163.3 1406.9,163.3 1406.9,177.9 1433.1,177.9 1433.1,206.8 1441.8,206.8 1441.8,221.4 1450.5,221.4 1450.5,264.9 1459.2,264.9 1459.2,293.8 1476.7,293.8 1476.7,308.4 1485.4,308.4 1485.4,322.9" fill="none" stroke-width="2" stroke-linejoin="miter"/>
<rect x="1319.9" y="154.8" width="17.0" height="17.0" fill="#161616" stroke="none"/>
<rect x="1398.4" y="169.4" width="17.0" height="17.0" fill="#161616" stroke="none"/>
<rect x="1424.6" y="198.3" width="17.0" height="17.0" fill="#161616" stroke="none"/>
<rect x="1433.3" y="212.9" width="17.0" height="17.0" fill="#161616" stroke="none"/>
<rect x="1442.0" y="256.4" width="17.0" height="17.0" fill="#161616" stroke="none"/>
<rect x="1450.7" y="285.3" width="17.0" height="17.0" fill="#161616" stroke="none"/>
<rect x="1468.2" y="299.9" width="17.0" height="17.0" fill="#161616" stroke="none"/>
<rect x="1476.9" y="314.4" width="17.0" height="17.0" fill="#161616" stroke="none"/>
<text stroke-width="0.4" x="1246.5" y="216.3" font-size="29" word-spacing="-1.6"><tspan font-style="italic">P</tspan> = 0.323</text>
<line x1="1264.6" y1="245.6" x2="1321.2" y2="245.6" stroke-width="4.4" stroke-linecap="butt"/>
<rect x="1285.1" y="235.7" width="18.1" height="20.2" fill="#161616" stroke="none" stroke-width="0"/>
<line x1="1264.6" y1="284.8" x2="1281.6" y2="284.8" stroke-width="4.4" stroke-linecap="butt"/>
<line x1="1296.0" y1="284.8" x2="1304.5" y2="284.8" stroke-width="4.4" stroke-linecap="butt"/>
<line x1="1310.1" y1="284.8" x2="1321.2" y2="284.8" stroke-width="4.4" stroke-linecap="butt"/>
<polygon points="1293.4,267.8 1304.5,292.0 1282.3,292.0" fill="#161616" stroke="none"/>
<text stroke-width="0.4" x="1330.5" y="254.0" font-size="29">WT</text>
<text stroke-width="0.4" x="1330.5" y="292.0" font-size="29">DKI</text>
<text stroke-width="0.4" x="1.5" y="557.0" font-size="41" font-weight="bold">e</text>
<line x1="110.7" y1="599.5" x2="110.7" y2="777.8" stroke-width="2.2" stroke-linecap="butt"/>
<line x1="100.2" y1="776.7" x2="376.2" y2="776.7" stroke-width="2.2" stroke-linecap="butt"/>
<line x1="100.2" y1="776.7" x2="110.7" y2="776.7" stroke-width="2.2" stroke-linecap="butt"/>
<text stroke-width="0.4" x="95.2" y="786.7" font-size="29" text-anchor="end">0</text>
<line x1="100.2" y1="732.4" x2="110.7" y2="732.4" stroke-width="2.2" stroke-linecap="butt"/>
<text stroke-width="0.4" x="95.2" y="742.4" font-size="29" text-anchor="end">25</text>
<line x1="100.2" y1="688.1" x2="110.7" y2="688.1" stroke-width="2.2" stroke-linecap="butt"/>
<text stroke-width="0.4" x="95.2" y="698.1" font-size="29" text-anchor="end">50</text>
<line x1="100.2" y1="643.8" x2="110.7" y2="643.8" stroke-width="2.2" stroke-linecap="butt"/>
<text stroke-width="0.4" x="95.2" y="653.8" font-size="29" text-anchor="end">75</text>
<line x1="100.2" y1="599.5" x2="110.7" y2="599.5" stroke-width="2.2" stroke-linecap="butt"/>
<text stroke-width="0.4" x="95.2" y="609.5" font-size="29" text-anchor="end">100</text>
<line x1="143.4" y1="776.7" x2="143.4" y2="784.0" stroke-width="2.2" stroke-linecap="butt"/>
<text stroke-width="0.4" x="143.4" y="814.5" font-size="29" text-anchor="middle">24</text>
<line x1="209.7" y1="776.7" x2="209.7" y2="784.0" stroke-width="2.2" stroke-linecap="butt"/>
<text stroke-width="0.4" x="209.7" y="814.5" font-size="29" text-anchor="middle">48</text>
<line x1="276.0" y1="776.7" x2="276.0" y2="784.0" stroke-width="2.2" stroke-linecap="butt"/>
<text stroke-width="0.4" x="276.0" y="814.5" font-size="29" text-anchor="middle">72</text>
<line x1="342.3" y1="776.7" x2="342.3" y2="784.0" stroke-width="2.2" stroke-linecap="butt"/>
<text stroke-width="0.4" x="342.3" y="814.5" font-size="29" text-anchor="middle">96</text>
<text stroke-width="0.4" x="244.2" y="852.5" font-size="29" text-anchor="middle">IL-15 (h)</text>
<line x1="209.7" y1="715.9" x2="209.7" y2="701.7" stroke-width="2" stroke-linecap="butt"/>
<line x1="202.2" y1="701.7" x2="217.2" y2="701.7" stroke-width="2" stroke-linecap="butt"/>
<line x1="276.0" y1="627.0" x2="276.0" y2="613.7" stroke-width="2" stroke-linecap="butt"/>
<line x1="268.5" y1="613.7" x2="283.5" y2="613.7" stroke-width="2" stroke-linecap="butt"/>
<polyline points="143.4,774.9 209.7,715.9 276.0,627.0 342.3,601.3" fill="none" stroke-width="2" stroke-dasharray="8,5" stroke-linejoin="miter"/>
<polygon points="143.4,767.4 150.4,781.4 136.4,781.4" fill="#161616" stroke="none"/>
<polygon points="209.7,708.4 216.7,722.4 202.7,722.4" fill="#161616" stroke="none"/>
<polygon points="276.0,619.5 283.0,633.5 269.0,633.5" fill="#161616" stroke="none"/>
<polygon points="342.3,593.8 349.3,607.8 335.3,607.8" fill="#161616" stroke="none"/>
<polyline points="143.4,775.5 209.7,731.0 276.0,645.2 342.3,602.5" fill="none" stroke-width="2.2" stroke-linejoin="miter"/>
<rect x="136.2" y="768.2" width="14.5" height="14.5" fill="#161616" stroke="none"/>
<rect x="202.4" y="723.7" width="14.5" height="14.5" fill="#161616" stroke="none"/>
<rect x="268.8" y="638.0" width="14.5" height="14.5" fill="#161616" stroke="none"/>
<rect x="335.0" y="595.3" width="14.5" height="14.5" fill="#161616" stroke="none"/>
<text stroke-width="0.4" x="27.0" y="686.0" font-size="29" text-anchor="middle" transform="rotate(-90 27.0 686.0)">Dividing cells (%)</text>
<rect x="139.0" y="576.1" width="22.7" height="25.6" fill="#161616" stroke="none" stroke-width="0"/>
<polygon points="150.5,614.5 168,635.5 133,635.5" fill="#161616" stroke="none"/>
<text stroke-width="0.4" x="175.8" y="597.2" font-size="29">WT</text>
<text stroke-width="0.4" x="175.8" y="632.8" font-size="29">DKI</text>
<text stroke-width="0.4" x="421.5" y="559.0" font-size="41" font-weight="bold">f</text>
<line x1="488.2" y1="599.5" x2="488.2" y2="777.8" stroke-width="2.2" stroke-linecap="butt"/>
<line x1="477.7" y1="776.7" x2="753.7" y2="776.7" stroke-width="2.2" stroke-linecap="butt"/>
<line x1="477.7" y1="776.7" x2="488.2" y2="776.7" stroke-width="2.2" stroke-linecap="butt"/>
<text stroke-width="0.4" x="471.7" y="786.7" font-size="29" text-anchor="end">0</text>
<line x1="477.7" y1="732.4" x2="488.2" y2="732.4" stroke-width="2.2" stroke-linecap="butt"/>
<text stroke-width="0.4" x="471.7" y="742.4" font-size="29" text-anchor="end">25</text>
<line x1="477.7" y1="688.1" x2="488.2" y2="688.1" stroke-width="2.2" stroke-linecap="butt"/>
<text stroke-width="0.4" x="471.7" y="698.1" font-size="29" text-anchor="end">50</text>
<line x1="477.7" y1="643.8" x2="488.2" y2="643.8" stroke-width="2.2" stroke-linecap="butt"/>
<text stroke-width="0.4" x="471.7" y="653.8" font-size="29" text-anchor="end">75</text>
<line x1="477.7" y1="599.5" x2="488.2" y2="599.5" stroke-width="2.2" stroke-linecap="butt"/>
<text stroke-width="0.4" x="471.7" y="609.5" font-size="29" text-anchor="end">100</text>
<line x1="520.9" y1="776.7" x2="520.9" y2="784.0" stroke-width="2.2" stroke-linecap="butt"/>
<text stroke-width="0.4" x="520.9" y="814.5" font-size="29" text-anchor="middle">24</text>
<line x1="587.2" y1="776.7" x2="587.2" y2="784.0" stroke-width="2.2" stroke-linecap="butt"/>
<text stroke-width="0.4" x="587.2" y="814.5" font-size="29" text-anchor="middle">48</text>
<line x1="653.5" y1="776.7" x2="653.5" y2="784.0" stroke-width="2.2" stroke-linecap="butt"/>
<text stroke-width="0.4" x="653.5" y="814.5" font-size="29" text-anchor="middle">72</text>
<line x1="719.8" y1="776.7" x2="719.8" y2="784.0" stroke-width="2.2" stroke-linecap="butt"/>
<text stroke-width="0.4" x="719.8" y="814.5" font-size="29" text-anchor="middle">96</text>
<text stroke-width="0.4" x="609.5" y="852.5" font-size="29" text-anchor="middle">IL-2 (h)</text>
<line x1="587.2" y1="676.8" x2="587.2" y2="658.3" stroke-width="2" stroke-linecap="butt"/>
<line x1="579.7" y1="658.3" x2="594.7" y2="658.3" stroke-width="2" stroke-linecap="butt"/>
<line x1="587.2" y1="688.8" x2="587.2" y2="673.7" stroke-width="2" stroke-linecap="butt"/>
<line x1="579.7" y1="673.7" x2="594.7" y2="673.7" stroke-width="2" stroke-linecap="butt"/>
<polyline points="520.9,764.3 587.2,676.8 653.5,605.9 719.8,600.7" fill="none" stroke-width="2" stroke-dasharray="8,5" stroke-linejoin="miter"/>
<polygon points="520.9,756.8 527.9,770.8 513.9,770.8" fill="#161616" stroke="none"/>
<polygon points="587.2,669.3 594.2,683.3 580.2,683.3" fill="#161616" stroke="none"/>
<polygon points="653.5,598.4 660.5,612.4 646.5,612.4" fill="#161616" stroke="none"/>
<polygon points="719.8,593.2 726.8,607.2 712.8,607.2" fill="#161616" stroke="none"/>
<polyline points="520.9,766.1 587.2,688.8 653.5,612.6 719.8,604.6" fill="none" stroke-width="2.2" stroke-linejoin="miter"/>
<rect x="513.6" y="758.8" width="14.5" height="14.5" fill="#161616" stroke="none"/>
<rect x="579.9" y="681.6" width="14.5" height="14.5" fill="#161616" stroke="none"/>
<rect x="646.2" y="605.4" width="14.5" height="14.5" fill="#161616" stroke="none"/>
<rect x="712.5" y="597.4" width="14.5" height="14.5" fill="#161616" stroke="none"/>
<text stroke-width="0.4" x="796.0" y="559.0" font-size="41" font-weight="bold">g</text>
<line x1="861.2" y1="599.5" x2="861.2" y2="777.8" stroke-width="2.2" stroke-linecap="butt"/>
<line x1="850.7" y1="776.7" x2="1126.7" y2="776.7" stroke-width="2.2" stroke-linecap="butt"/>
<line x1="850.7" y1="776.7" x2="861.2" y2="776.7" stroke-width="2.2" stroke-linecap="butt"/>
<text stroke-width="0.4" x="845.0" y="786.7" font-size="29" text-anchor="end">0</text>
<line x1="850.7" y1="732.4" x2="861.2" y2="732.4" stroke-width="2.2" stroke-linecap="butt"/>
<text stroke-width="0.4" x="845.0" y="742.4" font-size="29" text-anchor="end">25</text>
<line x1="850.7" y1="688.1" x2="861.2" y2="688.1" stroke-width="2.2" stroke-linecap="butt"/>
<text stroke-width="0.4" x="845.0" y="698.1" font-size="29" text-anchor="end">50</text>
<line x1="850.7" y1="643.8" x2="861.2" y2="643.8" stroke-width="2.2" stroke-linecap="butt"/>
<text stroke-width="0.4" x="845.0" y="653.8" font-size="29" text-anchor="end">75</text>
<line x1="850.7" y1="599.5" x2="861.2" y2="599.5" stroke-width="2.2" stroke-linecap="butt"/>
<text stroke-width="0.4" x="845.0" y="609.5" font-size="29" text-anchor="end">100</text>
<line x1="893.9" y1="776.7" x2="893.9" y2="784.0" stroke-width="2.2" stroke-linecap="butt"/>
<text stroke-width="0.4" x="893.9" y="814.5" font-size="29" text-anchor="middle">24</text>
<line x1="960.2" y1="776.7" x2="960.2" y2="784.0" stroke-width="2.2" stroke-linecap="butt"/>
<text stroke-width="0.4" x="960.2" y="814.5" font-size="29" text-anchor="middle">48</text>
<line x1="1026.5" y1="776.7" x2="1026.5" y2="784.0" stroke-width="2.2" stroke-linecap="butt"/>
<text stroke-width="0.4" x="1026.5" y="814.5" font-size="29" text-anchor="middle">72</text>
<line x1="1092.8" y1="776.7" x2="1092.8" y2="784.0" stroke-width="2.2" stroke-linecap="butt"/>
<text stroke-width="0.4" x="1092.8" y="814.5" font-size="29" text-anchor="middle">96</text>
<text stroke-width="0.4" x="992.5" y="852.5" font-size="29" text-anchor="middle">IL-15 (h)</text>
<line x1="960.2" y1="731.0" x2="960.2" y2="715.0" stroke-width="2" stroke-linecap="butt"/>
<line x1="952.7" y1="715.0" x2="967.7" y2="715.0" stroke-width="2" stroke-linecap="butt"/>
<line x1="1026.5" y1="616.9" x2="1026.5" y2="603.0" stroke-width="2" stroke-linecap="butt"/>
<line x1="1019.0" y1="603.0" x2="1034.0" y2="603.0" stroke-width="2" stroke-linecap="butt"/>
<polyline points="893.9,772.3 960.2,731.0 1026.5,616.9 1092.8,605.5" fill="none" stroke-width="2" stroke-dasharray="8,5" stroke-linejoin="miter"/>
<polygon points="893.9,764.8 900.9,778.8 886.9,778.8" fill="#161616" stroke="none"/>
<polygon points="960.2,723.5 967.2,737.5 953.2,737.5" fill="#161616" stroke="none"/>
<polygon points="1026.5,609.4 1033.5,623.4 1019.5,623.4" fill="#161616" stroke="none"/>
<polygon points="1092.8,598.0 1099.8,612.0 1085.8,612.0" fill="#161616" stroke="none"/>
<polyline points="893.9,774.9 960.2,735.9 1026.5,633.2 1092.8,603.0" fill="none" stroke-width="2.2" stroke-linejoin="miter"/>
<rect x="886.7" y="767.7" width="14.5" height="14.5" fill="#161616" stroke="none"/>
<rect x="953.0" y="728.7" width="14.5" height="14.5" fill="#161616" stroke="none"/>
<rect x="1019.2" y="625.9" width="14.5" height="14.5" fill="#161616" stroke="none"/>
<rect x="1085.6" y="595.8" width="14.5" height="14.5" fill="#161616" stroke="none"/>
<text stroke-width="0.4" x="1171.5" y="559.0" font-size="41" font-weight="bold">h</text>
<line x1="1238.2" y1="599.5" x2="1238.2" y2="777.8" stroke-width="2.2" stroke-linecap="butt"/>
<line x1="1227.7" y1="776.7" x2="1503.7" y2="776.7" stroke-width="2.2" stroke-linecap="butt"/>
<line x1="1227.7" y1="776.7" x2="1238.2" y2="776.7" stroke-width="2.2" stroke-linecap="butt"/>
<text stroke-width="0.4" x="1219.2" y="786.7" font-size="29" text-anchor="end">0</text>
<line x1="1227.7" y1="732.4" x2="1238.2" y2="732.4" stroke-width="2.2" stroke-linecap="butt"/>
<text stroke-width="0.4" x="1219.2" y="742.4" font-size="29" text-anchor="end">25</text>
<line x1="1227.7" y1="688.1" x2="1238.2" y2="688.1" stroke-width="2.2" stroke-linecap="butt"/>
<text stroke-width="0.4" x="1219.2" y="698.1" font-size="29" text-anchor="end">50</text>
<line x1="1227.7" y1="643.8" x2="1238.2" y2="643.8" stroke-width="2.2" stroke-linecap="butt"/>
<text stroke-width="0.4" x="1219.2" y="653.8" font-size="29" text-anchor="end">75</text>
<line x1="1227.7" y1="599.5" x2="1238.2" y2="599.5" stroke-width="2.2" stroke-linecap="butt"/>
<text stroke-width="0.4" x="1219.2" y="609.5" font-size="29" text-anchor="end">100</text>
<line x1="1270.9" y1="776.7" x2="1270.9" y2="784.0" stroke-width="2.2" stroke-linecap="butt"/>
<text stroke-width="0.4" x="1270.9" y="814.5" font-size="29" text-anchor="middle">24</text>
<line x1="1337.2" y1="776.7" x2="1337.2" y2="784.0" stroke-width="2.2" stroke-linecap="butt"/>
<text stroke-width="0.4" x="1337.2" y="814.5" font-size="29" text-anchor="middle">48</text>
<line x1="1403.5" y1="776.7" x2="1403.5" y2="784.0" stroke-width="2.2" stroke-linecap="butt"/>
<text stroke-width="0.4" x="1403.5" y="814.5" font-size="29" text-anchor="middle">72</text>
<line x1="1469.8" y1="776.7" x2="1469.8" y2="784.0" stroke-width="2.2" stroke-linecap="butt"/>
<text stroke-width="0.4" x="1469.8" y="814.5" font-size="29" text-anchor="middle">96</text>
<text stroke-width="0.4" x="1371.7" y="852.5" font-size="29" text-anchor="middle">IL-2 (h)</text>
<line x1="1337.2" y1="665.4" x2="1337.2" y2="645.7" stroke-width="2" stroke-linecap="butt"/>
<line x1="1329.7" y1="645.7" x2="1344.7" y2="645.7" stroke-width="2" stroke-linecap="butt"/>
<polyline points="1270.9,773.2 1337.2,665.4 1403.5,607.7 1469.8,602.2" fill="none" stroke-width="2" stroke-dasharray="8,5" stroke-linejoin="miter"/>
<polygon points="1270.9,765.7 1277.9,779.7 1263.9,779.7" fill="#161616" stroke="none"/>
<polygon points="1337.2,657.9 1344.2,671.9 1330.2,671.9" fill="#161616" stroke="none"/>
<polygon points="1403.5,600.2 1410.5,614.2 1396.5,614.2" fill="#161616" stroke="none"/>
<polygon points="1469.8,594.7 1476.8,608.7 1462.8,608.7" fill="#161616" stroke="none"/>
<polyline points="1270.9,774.9 1337.2,709.2 1403.5,614.4 1469.8,602.5" fill="none" stroke-width="2.2" stroke-linejoin="miter"/>
<rect x="1263.7" y="767.7" width="14.5" height="14.5" fill="#161616" stroke="none"/>
<rect x="1330.0" y="701.9" width="14.5" height="14.5" fill="#161616" stroke="none"/>
<rect x="1396.2" y="607.1" width="14.5" height="14.5" fill="#161616" stroke="none"/>
<rect x="1462.6" y="595.3" width="14.5" height="14.5" fill="#161616" stroke="none"/>
<text stroke-width="0.4" x="349.0" y="940.0" font-size="41" font-weight="bold">i</text>
<line x1="439.5" y1="988.2" x2="439.5" y2="1048.3" stroke-width="2.2" stroke-linecap="butt"/>
<line x1="436.2" y1="1048.3" x2="442.8" y2="1048.3" stroke-width="2.2" stroke-linecap="butt"/>
<line x1="430.0" y1="988.2" x2="439.5" y2="988.2" stroke-width="2.2" stroke-linecap="butt"/>
<text stroke-width="0.4" x="424.0" y="998.2" font-size="29" text-anchor="end">80</text>
<line x1="430.0" y1="1036.0" x2="439.5" y2="1036.0" stroke-width="2.2" stroke-linecap="butt"/>
<text stroke-width="0.4" x="424.0" y="1046.0" font-size="29" text-anchor="end">60</text>
<line x1="439.5" y1="1062.0" x2="439.5" y2="1203.5" stroke-width="2.2" stroke-linecap="butt"/>
<line x1="430.0" y1="1062.0" x2="442.8" y2="1062.0" stroke-width="2.2" stroke-linecap="butt"/>
<line x1="430.0" y1="1202.4" x2="439.5" y2="1202.4" stroke-width="2.2" stroke-linecap="butt"/>
<line x1="430.0" y1="1167.3" x2="439.5" y2="1167.3" stroke-width="2.2" stroke-linecap="butt"/>
<line x1="430.0" y1="1132.2" x2="439.5" y2="1132.2" stroke-width="2.2" stroke-linecap="butt"/>
<line x1="430.0" y1="1097.1" x2="439.5" y2="1097.1" stroke-width="2.2" stroke-linecap="butt"/>
<line x1="430.0" y1="1062.0" x2="439.5" y2="1062.0" stroke-width="2.2" stroke-linecap="butt"/>
<text stroke-width="0.4" x="424.0" y="1212.4" font-size="29" text-anchor="end">0</text>
<text stroke-width="0.4" x="424.0" y="1142.2" font-size="29" text-anchor="end">20</text>
<text stroke-width="0.4" x="424.0" y="1072.0" font-size="29" text-anchor="end">40</text>
<line x1="430.0" y1="1202.4" x2="741.3" y2="1202.4" stroke-width="2.2" stroke-linecap="butt"/>
<line x1="463.7" y1="1202.4" x2="463.7" y2="1210.4" stroke-width="2.2" stroke-linecap="butt"/>
<text stroke-width="0.4" x="463.7" y="1240.5" font-size="29" text-anchor="middle">0</text>
<line x1="514.2" y1="1202.4" x2="514.2" y2="1210.4" stroke-width="2.2" stroke-linecap="butt"/>
<text stroke-width="0.4" x="514.2" y="1240.5" font-size="29" text-anchor="middle">1</text>
<line x1="564.7" y1="1202.4" x2="564.7" y2="1210.4" stroke-width="2.2" stroke-linecap="butt"/>
<text stroke-width="0.4" x="564.7" y="1240.5" font-size="29" text-anchor="middle">4</text>
<line x1="615.2" y1="1202.4" x2="615.2" y2="1210.4" stroke-width="2.2" stroke-linecap="butt"/>
<text stroke-width="0.4" x="615.2" y="1240.5" font-size="29" text-anchor="middle">8</text>
<line x1="665.7" y1="1202.4" x2="665.7" y2="1210.4" stroke-width="2.2" stroke-linecap="butt"/>
<text stroke-width="0.4" x="665.7" y="1240.5" font-size="29" text-anchor="middle">24</text>
<line x1="716.2" y1="1202.4" x2="716.2" y2="1210.4" stroke-width="2.2" stroke-linecap="butt"/>
<text stroke-width="0.4" x="716.2" y="1240.5" font-size="29" text-anchor="middle">48</text>
<text stroke-width="0.4" x="595.0" y="1273.5" font-size="29" text-anchor="middle">IL-15 (h)</text>
<text stroke-width="0.4" x="372.0" y="1093.0" font-size="29" text-anchor="middle" transform="rotate(-90 372.0 1093.0)">Ki67<tspan font-size="18" dy="-10">+</tspan><tspan dy="10"> NK cells (%)</tspan></text>
<line x1="716.2" y1="1016.2" x2="716.2" y2="996.6" stroke-width="2" stroke-linecap="butt"/>
<line x1="707.7" y1="996.6" x2="724.7" y2="996.6" stroke-width="2" stroke-linecap="butt"/>
<line x1="564.7" y1="1125.2" x2="564.7" y2="1114.7" stroke-width="2" stroke-linecap="butt"/>
<line x1="556.2" y1="1114.7" x2="573.2" y2="1114.7" stroke-width="2" stroke-linecap="butt"/>
<line x1="615.2" y1="1132.2" x2="615.2" y2="1124.1" stroke-width="2" stroke-linecap="butt"/>
<line x1="606.7" y1="1124.1" x2="623.7" y2="1124.1" stroke-width="2" stroke-linecap="butt"/>
<line x1="665.7" y1="1137.5" x2="665.7" y2="1129.0" stroke-width="2" stroke-linecap="butt"/>
<line x1="657.2" y1="1129.0" x2="674.2" y2="1129.0" stroke-width="2" stroke-linecap="butt"/>
<polyline points="463.7,1165.5 514.2,1148.0 564.7,1097.1 615.2,1100.6 665.7,1102.4 716.2,1016.2" fill="none" stroke-width="2" stroke-dasharray="8,5" stroke-linejoin="miter"/>
<polygon points="463.7,1157.3 471.4,1173.8 455.9,1173.8" fill="#161616" stroke="none"/>
<polygon points="514.2,1139.7 522.0,1156.2 506.5,1156.2" fill="#161616" stroke="none"/>
<polygon points="564.7,1088.8 572.5,1105.3 557.0,1105.3" fill="#161616" stroke="none"/>
<polygon points="615.2,1092.4 623.0,1108.9 607.5,1108.9" fill="#161616" stroke="none"/>
<polygon points="665.7,1094.1 673.5,1110.6 658.0,1110.6" fill="#161616" stroke="none"/>
<polygon points="716.2,1007.9 724.0,1024.4 708.5,1024.4" fill="#161616" stroke="none"/>
<polyline points="463.7,1188.4 514.2,1176.1 564.7,1125.2 615.2,1132.2 665.7,1137.5 716.2,1024.3" fill="none" stroke-width="2.2" stroke-linejoin="miter"/>
<rect x="456.1" y="1180.2" width="15.3" height="16.3" fill="#161616" stroke="none" stroke-width="0"/>
<rect x="506.6" y="1167.9" width="15.3" height="16.3" fill="#161616" stroke="none" stroke-width="0"/>
<rect x="557.1" y="1117.0" width="15.3" height="16.3" fill="#161616" stroke="none" stroke-width="0"/>
<rect x="607.6" y="1124.0" width="15.3" height="16.3" fill="#161616" stroke="none" stroke-width="0"/>
<rect x="658.1" y="1129.3" width="15.3" height="16.3" fill="#161616" stroke="none" stroke-width="0"/>
<rect x="708.6" y="1016.1" width="15.3" height="16.3" fill="#161616" stroke="none" stroke-width="0"/>
<rect x="673.7" y="1049.3" width="60.0" height="11.7" fill="#fff" stroke="none" stroke-width="0"/>
<text stroke-width="0.4" x="790.0" y="932.0" font-size="41" font-weight="bold">j</text>
<line x1="877.6" y1="986.8" x2="877.6" y2="1047.5" stroke-width="2.2" stroke-linecap="butt"/>
<line x1="874.3" y1="1047.5" x2="880.9" y2="1047.5" stroke-width="2.2" stroke-linecap="butt"/>
<line x1="868.1" y1="986.8" x2="877.6" y2="986.8" stroke-width="2.2" stroke-linecap="butt"/>
<text stroke-width="0.4" x="862.1" y="996.8" font-size="29" text-anchor="end">80</text>
<line x1="868.1" y1="1026.7" x2="877.6" y2="1026.7" stroke-width="2.2" stroke-linecap="butt"/>
<text stroke-width="0.4" x="862.1" y="1036.7" font-size="29" text-anchor="end">70</text>
<line x1="877.6" y1="1061.4" x2="877.6" y2="1202.1" stroke-width="2.2" stroke-linecap="butt"/>
<line x1="868.1" y1="1061.4" x2="880.9" y2="1061.4" stroke-width="2.2" stroke-linecap="butt"/>
<line x1="868.1" y1="1201.0" x2="877.6" y2="1201.0" stroke-width="2.2" stroke-linecap="butt"/>
<line x1="868.1" y1="1154.5" x2="877.6" y2="1154.5" stroke-width="2.2" stroke-linecap="butt"/>
<line x1="868.1" y1="1107.9" x2="877.6" y2="1107.9" stroke-width="2.2" stroke-linecap="butt"/>
<line x1="868.1" y1="1061.4" x2="877.6" y2="1061.4" stroke-width="2.2" stroke-linecap="butt"/>
<text stroke-width="0.4" x="862.1" y="1211.0" font-size="29" text-anchor="end">0</text>
<text stroke-width="0.4" x="862.1" y="1164.5" font-size="29" text-anchor="end">10</text>
<text stroke-width="0.4" x="862.1" y="1117.9" font-size="29" text-anchor="end">20</text>
<text stroke-width="0.4" x="862.1" y="1071.4" font-size="29" text-anchor="end">30</text>
<line x1="868.1" y1="1201.0" x2="1179.4" y2="1201.0" stroke-width="2.2" stroke-linecap="butt"/>
<line x1="901.8" y1="1201.0" x2="901.8" y2="1209.0" stroke-width="2.2" stroke-linecap="butt"/>
<text stroke-width="0.4" x="901.8" y="1240.5" font-size="29" text-anchor="middle">0</text>
<line x1="952.3" y1="1201.0" x2="952.3" y2="1209.0" stroke-width="2.2" stroke-linecap="butt"/>
<text stroke-width="0.4" x="952.3" y="1240.5" font-size="29" text-anchor="middle">1</text>
<line x1="1002.8" y1="1201.0" x2="1002.8" y2="1209.0" stroke-width="2.2" stroke-linecap="butt"/>
<text stroke-width="0.4" x="1002.8" y="1240.5" font-size="29" text-anchor="middle">4</text>
<line x1="1053.3" y1="1201.0" x2="1053.3" y2="1209.0" stroke-width="2.2" stroke-linecap="butt"/>
<text stroke-width="0.4" x="1053.3" y="1240.5" font-size="29" text-anchor="middle">8</text>
<line x1="1103.8" y1="1201.0" x2="1103.8" y2="1209.0" stroke-width="2.2" stroke-linecap="butt"/>
<text stroke-width="0.4" x="1103.8" y="1240.5" font-size="29" text-anchor="middle">24</text>
<line x1="1154.3" y1="1201.0" x2="1154.3" y2="1209.0" stroke-width="2.2" stroke-linecap="butt"/>
<text stroke-width="0.4" x="1154.3" y="1240.5" font-size="29" text-anchor="middle">48</text>
<text stroke-width="0.4" x="1015.5" y="1273.5" font-size="29" text-anchor="middle">IL-15 (h)</text>
<text stroke-width="0.4" x="808.5" y="1084.0" font-size="29" text-anchor="middle" transform="rotate(-90 808.5 1084.0)">Ki67<tspan font-size="18" dy="-10">+</tspan><tspan dy="10"> NK cells (%)</tspan></text>
<line x1="901.8" y1="1133.5" x2="901.8" y2="1116.3" stroke-width="2" stroke-linecap="butt"/>
<line x1="893.3" y1="1116.3" x2="910.3" y2="1116.3" stroke-width="2" stroke-linecap="butt"/>
<line x1="952.3" y1="1115.8" x2="952.3" y2="1102.3" stroke-width="2" stroke-linecap="butt"/>
<line x1="943.8" y1="1102.3" x2="960.8" y2="1102.3" stroke-width="2" stroke-linecap="butt"/>
<line x1="1002.8" y1="1103.3" x2="1002.8" y2="1087.5" stroke-width="2" stroke-linecap="butt"/>
<line x1="994.3" y1="1087.5" x2="1011.3" y2="1087.5" stroke-width="2" stroke-linecap="butt"/>
<line x1="1053.3" y1="1096.3" x2="1053.3" y2="1082.8" stroke-width="2" stroke-linecap="butt"/>
<line x1="1044.8" y1="1082.8" x2="1061.8" y2="1082.8" stroke-width="2" stroke-linecap="butt"/>
<line x1="1103.8" y1="1121.9" x2="1103.8" y2="1112.6" stroke-width="2" stroke-linecap="butt"/>
<line x1="1095.3" y1="1112.6" x2="1112.3" y2="1112.6" stroke-width="2" stroke-linecap="butt"/>
<line x1="1154.3" y1="1005.2" x2="1154.3" y2="990.8" stroke-width="2" stroke-linecap="butt"/>
<line x1="1145.8" y1="990.8" x2="1162.8" y2="990.8" stroke-width="2" stroke-linecap="butt"/>
<line x1="901.8" y1="1171.7" x2="901.8" y2="1162.4" stroke-width="2" stroke-linecap="butt"/>
<line x1="893.3" y1="1162.4" x2="910.3" y2="1162.4" stroke-width="2" stroke-linecap="butt"/>
<line x1="1002.8" y1="1138.2" x2="1002.8" y2="1127.5" stroke-width="2" stroke-linecap="butt"/>
<line x1="994.3" y1="1127.5" x2="1011.3" y2="1127.5" stroke-width="2" stroke-linecap="butt"/>
<line x1="1053.3" y1="1139.6" x2="1053.3" y2="1129.3" stroke-width="2" stroke-linecap="butt"/>
<line x1="1044.8" y1="1129.3" x2="1061.8" y2="1129.3" stroke-width="2" stroke-linecap="butt"/>
<polyline points="901.8,1133.5 952.3,1115.8 1002.8,1103.3 1053.3,1096.3 1103.8,1121.9 1154.3,1005.2" fill="none" stroke-width="2" stroke-dasharray="8,5" stroke-linejoin="miter"/>
<polygon points="901.8,1125.3 909.6,1141.8 894.1,1141.8" fill="#161616" stroke="none"/>
<polygon points="952.3,1107.6 960.1,1124.1 944.6,1124.1" fill="#161616" stroke="none"/>
<polygon points="1002.8,1095.0 1010.6,1111.5 995.1,1111.5" fill="#161616" stroke="none"/>
<polygon points="1053.3,1088.0 1061.1,1104.5 1045.6,1104.5" fill="#161616" stroke="none"/>
<polygon points="1103.8,1113.6 1111.6,1130.1 1096.1,1130.1" fill="#161616" stroke="none"/>
<polygon points="1154.3,996.9 1162.1,1013.4 1146.6,1013.4" fill="#161616" stroke="none"/>
<polyline points="901.8,1171.7 952.3,1161.4 1002.8,1138.2 1053.3,1139.6 1103.8,1156.8 1154.3,1008.3" fill="none" stroke-width="2.2" stroke-linejoin="miter"/>
<rect x="894.2" y="1163.5" width="15.3" height="16.3" fill="#161616" stroke="none" stroke-width="0"/>
<rect x="944.7" y="1153.3" width="15.3" height="16.3" fill="#161616" stroke="none" stroke-width="0"/>
<rect x="995.2" y="1130.0" width="15.3" height="16.3" fill="#161616" stroke="none" stroke-width="0"/>
<rect x="1045.7" y="1131.4" width="15.3" height="16.3" fill="#161616" stroke="none" stroke-width="0"/>
<rect x="1096.2" y="1148.6" width="15.3" height="16.3" fill="#161616" stroke="none" stroke-width="0"/>
<rect x="1146.7" y="1000.2" width="15.3" height="16.3" fill="#161616" stroke="none" stroke-width="0"/>
<rect x="1111.8" y="1048.5" width="60.0" height="11.9" fill="#fff" stroke="none" stroke-width="0"/>
<text stroke-width="0.4" x="133.0" y="1353.0" font-size="41" font-weight="bold">k</text>
<line x1="318.3" y1="1400.9" x2="318.3" y2="1671.3" stroke-width="2.2" stroke-linecap="butt"/>
<line x1="306.8" y1="1670.2" x2="723.2" y2="1670.2" stroke-width="2.2" stroke-linecap="butt"/>
<line x1="306.8" y1="1670.2" x2="318.3" y2="1670.2" stroke-width="2.2" stroke-linecap="butt"/>
<text stroke-width="0.4" x="301.8" y="1675.3" font-size="29" text-anchor="end">0</text>
<line x1="306.8" y1="1616.3" x2="318.3" y2="1616.3" stroke-width="2.2" stroke-linecap="butt"/>
<text stroke-width="0.4" x="301.8" y="1623.2" font-size="29" text-anchor="end">20</text>
<line x1="306.8" y1="1562.5" x2="318.3" y2="1562.5" stroke-width="2.2" stroke-linecap="butt"/>
<text stroke-width="0.4" x="301.8" y="1570.2" font-size="29" text-anchor="end">40</text>
<line x1="306.8" y1="1508.6" x2="318.3" y2="1508.6" stroke-width="2.2" stroke-linecap="butt"/>
<text stroke-width="0.4" x="301.8" y="1519.4" font-size="29" text-anchor="end">60</text>
<line x1="306.8" y1="1454.8" x2="318.3" y2="1454.8" stroke-width="2.2" stroke-linecap="butt"/>
<text stroke-width="0.4" x="301.8" y="1464.4" font-size="29" text-anchor="end">80</text>
<line x1="306.8" y1="1400.9" x2="318.3" y2="1400.9" stroke-width="2.2" stroke-linecap="butt"/>
<text stroke-width="0.4" x="301.8" y="1410.4" font-size="29" text-anchor="end">100</text>
<line x1="354.3" y1="1670.2" x2="354.3" y2="1678.2" stroke-width="2.2" stroke-linecap="butt"/>
<line x1="437.5" y1="1670.2" x2="437.5" y2="1678.2" stroke-width="2.2" stroke-linecap="butt"/>
<line x1="519.8" y1="1670.2" x2="519.8" y2="1678.2" stroke-width="2.2" stroke-linecap="butt"/>
<line x1="602.2" y1="1670.2" x2="602.2" y2="1678.2" stroke-width="2.2" stroke-linecap="butt"/>
<line x1="684.2" y1="1670.2" x2="684.2" y2="1678.2" stroke-width="2.2" stroke-linecap="butt"/>
<text stroke-width="0.4" x="132.0" y="1708.2" font-size="29">IL-15 (ng/ml):</text>
<text stroke-width="0.4" x="355.3" y="1708.2" font-size="29" text-anchor="middle">0.25</text>
<text stroke-width="0.4" x="438.5" y="1708.2" font-size="29" text-anchor="middle">1</text>
<text stroke-width="0.4" x="520.8" y="1708.2" font-size="29" text-anchor="middle">5</text>
<text stroke-width="0.4" x="603.2" y="1708.2" font-size="29" text-anchor="middle">10</text>
<text stroke-width="0.4" x="685.2" y="1708.2" font-size="29" text-anchor="middle">20</text>
<text stroke-width="0.4" x="236.0" y="1532.6" font-size="29" text-anchor="middle" transform="rotate(-90 236.0 1532.6)">Live cells (%)</text>
<line x1="338.7" y1="1506.2" x2="338.7" y2="1621.7" stroke-width="2" stroke-linecap="butt"/>
<line x1="333.2" y1="1506.2" x2="344.2" y2="1506.2" stroke-width="2" stroke-linecap="butt"/>
<line x1="333.2" y1="1621.7" x2="344.2" y2="1621.7" stroke-width="2" stroke-linecap="butt"/>
<line x1="330.2" y1="1563.8" x2="347.2" y2="1563.8" stroke-width="2" stroke-linecap="butt"/>
<circle cx="335.3" cy="1497.6" r="6.8" fill="none" stroke-width="1.9"/>
<circle cx="349.6" cy="1485.2" r="6.8" fill="none" stroke-width="1.9"/>
<circle cx="339.0" cy="1575.7" r="6.8" fill="none" stroke-width="1.9"/>
<circle cx="339.0" cy="1596.4" r="6.8" fill="none" stroke-width="1.9"/>
<circle cx="339.0" cy="1611.8" r="6.8" fill="none" stroke-width="1.9"/>
<circle cx="339.0" cy="1616.3" r="6.8" fill="none" stroke-width="1.9"/>
<line x1="371.8" y1="1625.2" x2="371.8" y2="1678.3" stroke-width="2" stroke-linecap="butt"/>
<line x1="366.3" y1="1625.2" x2="377.3" y2="1625.2" stroke-width="2" stroke-linecap="butt"/>
<line x1="366.3" y1="1678.3" x2="377.3" y2="1678.3" stroke-width="2" stroke-linecap="butt"/>
<line x1="363.3" y1="1652.7" x2="380.3" y2="1652.7" stroke-width="2" stroke-linecap="butt"/>
<circle cx="371.8" cy="1606.9" r="7.1" fill="#161616" stroke="none"/>
<circle cx="360.5" cy="1643.5" r="7.1" fill="#161616" stroke="none"/>
<circle cx="375.3" cy="1646.0" r="7.1" fill="#161616" stroke="none"/>
<circle cx="371.4" cy="1657.8" r="7.1" fill="#161616" stroke="none"/>
<circle cx="371.8" cy="1666.7" r="7.1" fill="#161616" stroke="none"/>
<circle cx="371.8" cy="1671.5" r="7.1" fill="#161616" stroke="none"/>
<line x1="420.9" y1="1436.7" x2="420.9" y2="1516.2" stroke-width="2" stroke-linecap="butt"/>
<line x1="415.4" y1="1436.7" x2="426.4" y2="1436.7" stroke-width="2" stroke-linecap="butt"/>
<line x1="415.4" y1="1516.2" x2="426.4" y2="1516.2" stroke-width="2" stroke-linecap="butt"/>
<line x1="412.4" y1="1476.0" x2="429.4" y2="1476.0" stroke-width="2" stroke-linecap="butt"/>
<circle cx="410.0" cy="1421.4" r="6.8" fill="none" stroke-width="1.9"/>
<circle cx="425.1" cy="1432.7" r="6.8" fill="none" stroke-width="1.9"/>
<circle cx="410.0" cy="1492.7" r="6.8" fill="none" stroke-width="1.9"/>
<circle cx="426.1" cy="1491.1" r="6.8" fill="none" stroke-width="1.9"/>
<circle cx="418.8" cy="1510.5" r="6.8" fill="none" stroke-width="1.9"/>
<circle cx="431.7" cy="1508.6" r="6.8" fill="none" stroke-width="1.9"/>
<line x1="453.6" y1="1525.0" x2="453.6" y2="1642.2" stroke-width="2" stroke-linecap="butt"/>
<line x1="448.1" y1="1525.0" x2="459.1" y2="1525.0" stroke-width="2" stroke-linecap="butt"/>
<line x1="448.1" y1="1642.2" x2="459.1" y2="1642.2" stroke-width="2" stroke-linecap="butt"/>
<line x1="445.1" y1="1583.5" x2="462.1" y2="1583.5" stroke-width="2" stroke-linecap="butt"/>
<circle cx="453.6" cy="1487.6" r="7.1" fill="#161616" stroke="none"/>
<circle cx="453.6" cy="1558.7" r="7.1" fill="#161616" stroke="none"/>
<circle cx="453.6" cy="1583.5" r="7.1" fill="#161616" stroke="none"/>
<circle cx="442.7" cy="1602.3" r="7.1" fill="#161616" stroke="none"/>
<circle cx="458.2" cy="1606.4" r="7.1" fill="#161616" stroke="none"/>
<circle cx="453.6" cy="1664.0" r="7.1" fill="#161616" stroke="none"/>
<circle cx="491.4" cy="1415.4" r="6.8" fill="none" stroke-width="1.9"/>
<circle cx="497.5" cy="1412.7" r="6.8" fill="none" stroke-width="1.9"/>
<circle cx="505.3" cy="1410.1" r="6.8" fill="none" stroke-width="1.9"/>
<circle cx="501.0" cy="1422.4" r="6.8" fill="none" stroke-width="1.9"/>
<circle cx="512.3" cy="1420.6" r="6.8" fill="none" stroke-width="1.9"/>
<circle cx="505.3" cy="1413.6" r="6.8" fill="none" stroke-width="1.9"/>
<line x1="535.9" y1="1412.2" x2="535.9" y2="1507.0" stroke-width="2" stroke-linecap="butt"/>
<line x1="530.4" y1="1412.2" x2="541.4" y2="1412.2" stroke-width="2" stroke-linecap="butt"/>
<line x1="530.4" y1="1507.0" x2="541.4" y2="1507.0" stroke-width="2" stroke-linecap="butt"/>
<line x1="527.4" y1="1459.9" x2="544.4" y2="1459.9" stroke-width="2" stroke-linecap="butt"/>
<circle cx="525.8" cy="1418.9" r="7.1" fill="#161616" stroke="none"/>
<circle cx="539.8" cy="1420.6" r="7.1" fill="#161616" stroke="none"/>
<circle cx="532.1" cy="1444.3" r="7.1" fill="#161616" stroke="none"/>
<circle cx="546.8" cy="1442.4" r="7.1" fill="#161616" stroke="none"/>
<circle cx="535.9" cy="1490.8" r="7.1" fill="#161616" stroke="none"/>
<circle cx="535.9" cy="1541.7" r="7.1" fill="#161616" stroke="none"/>
<circle cx="573.5" cy="1415.4" r="6.8" fill="none" stroke-width="1.9"/>
<circle cx="580.5" cy="1415.4" r="6.8" fill="none" stroke-width="1.9"/>
<circle cx="587.5" cy="1408.4" r="6.8" fill="none" stroke-width="1.9"/>
<circle cx="584.9" cy="1419.8" r="6.8" fill="none" stroke-width="1.9"/>
<circle cx="596.3" cy="1418.1" r="6.8" fill="none" stroke-width="1.9"/>
<circle cx="590.0" cy="1415.4" r="6.8" fill="none" stroke-width="1.9"/>
<line x1="618.5" y1="1411.7" x2="618.5" y2="1444.0" stroke-width="2" stroke-linecap="butt"/>
<line x1="613.0" y1="1411.7" x2="624.0" y2="1411.7" stroke-width="2" stroke-linecap="butt"/>
<line x1="613.0" y1="1444.0" x2="624.0" y2="1444.0" stroke-width="2" stroke-linecap="butt"/>
<line x1="610.0" y1="1427.6" x2="627.0" y2="1427.6" stroke-width="2" stroke-linecap="butt"/>
<circle cx="618.5" cy="1410.9" r="7.1" fill="#161616" stroke="none"/>
<circle cx="618.5" cy="1421.4" r="7.1" fill="#161616" stroke="none"/>
<circle cx="618.5" cy="1429.4" r="7.1" fill="#161616" stroke="none"/>
<circle cx="618.5" cy="1442.4" r="7.1" fill="#161616" stroke="none"/>
<circle cx="618.5" cy="1450.2" r="7.1" fill="#161616" stroke="none"/>
<circle cx="656.6" cy="1417.9" r="6.8" fill="none" stroke-width="1.9"/>
<circle cx="663.6" cy="1417.9" r="6.8" fill="none" stroke-width="1.9"/>
<circle cx="670.6" cy="1413.6" r="6.8" fill="none" stroke-width="1.9"/>
<circle cx="667.1" cy="1423.8" r="6.8" fill="none" stroke-width="1.9"/>
<circle cx="679.3" cy="1422.2" r="6.8" fill="none" stroke-width="1.9"/>
<circle cx="672.9" cy="1419.8" r="6.8" fill="none" stroke-width="1.9"/>
<line x1="701.2" y1="1406.3" x2="701.2" y2="1439.4" stroke-width="2" stroke-linecap="butt"/>
<line x1="695.7" y1="1406.3" x2="706.7" y2="1406.3" stroke-width="2" stroke-linecap="butt"/>
<line x1="695.7" y1="1439.4" x2="706.7" y2="1439.4" stroke-width="2" stroke-linecap="butt"/>
<line x1="692.7" y1="1421.9" x2="709.7" y2="1421.9" stroke-width="2" stroke-linecap="butt"/>
<circle cx="701.2" cy="1408.4" r="7.1" fill="#161616" stroke="none"/>
<circle cx="701.2" cy="1415.4" r="7.1" fill="#161616" stroke="none"/>
<circle cx="701.2" cy="1422.4" r="7.1" fill="#161616" stroke="none"/>
<circle cx="701.2" cy="1456.4" r="7.1" fill="#161616" stroke="none"/>
<circle cx="649.8" cy="1577.5" r="12.3" fill="none" stroke-width="2"/>
<circle cx="649.8" cy="1619.0" r="13.7" fill="#161616" stroke="none"/>
<text stroke-width="0.4" x="672.5" y="1586.8" font-size="29">WT</text>
<text stroke-width="0.4" x="672.5" y="1628.6" font-size="29">DKI</text>
<polyline points="321.8,1458.8 321.8,1449.3 397.1,1449.3 397.1,1458.8" fill="none" stroke-width="2" stroke-linejoin="miter"/>
<text stroke-width="0.4" x="358.0" y="1446.8" font-size="34" text-anchor="middle" letter-spacing="1" class="ast">***</text>
<polyline points="394.6,1401.1 394.6,1391.6 470.6,1391.6 470.6,1401.1" fill="none" stroke-width="2" stroke-linejoin="miter"/>
<text stroke-width="0.4" x="425.7" y="1391.3" font-size="34" text-anchor="middle" letter-spacing="1" class="ast">**</text>
<text stroke-width="0.4" x="765.0" y="1353.0" font-size="41" font-weight="bold">l</text>
<line x1="927.7" y1="1400.9" x2="927.7" y2="1671.3" stroke-width="2.2" stroke-linecap="butt"/>
<line x1="916.2" y1="1670.2" x2="1332.6" y2="1670.2" stroke-width="2.2" stroke-linecap="butt"/>
<line x1="916.2" y1="1670.2" x2="927.7" y2="1670.2" stroke-width="2.2" stroke-linecap="butt"/>
<text stroke-width="0.4" x="911.2" y="1677.9" font-size="29" text-anchor="end">0</text>
<line x1="916.2" y1="1616.3" x2="927.7" y2="1616.3" stroke-width="2.2" stroke-linecap="butt"/>
<text stroke-width="0.4" x="911.2" y="1626.3" font-size="29" text-anchor="end">20</text>
<line x1="916.2" y1="1562.5" x2="927.7" y2="1562.5" stroke-width="2.2" stroke-linecap="butt"/>
<text stroke-width="0.4" x="911.2" y="1572.0" font-size="29" text-anchor="end">40</text>
<line x1="916.2" y1="1508.6" x2="927.7" y2="1508.6" stroke-width="2.2" stroke-linecap="butt"/>
<text stroke-width="0.4" x="911.2" y="1519.1" font-size="29" text-anchor="end">60</text>
<line x1="916.2" y1="1454.8" x2="927.7" y2="1454.8" stroke-width="2.2" stroke-linecap="butt"/>
<text stroke-width="0.4" x="911.2" y="1464.8" font-size="29" text-anchor="end">80</text>
<line x1="916.2" y1="1400.9" x2="927.7" y2="1400.9" stroke-width="2.2" stroke-linecap="butt"/>
<text stroke-width="0.4" x="911.2" y="1410.4" font-size="29" text-anchor="end">100</text>
<line x1="964.9" y1="1670.2" x2="964.9" y2="1678.2" stroke-width="2.2" stroke-linecap="butt"/>
<line x1="1046.9" y1="1670.2" x2="1046.9" y2="1678.2" stroke-width="2.2" stroke-linecap="butt"/>
<line x1="1129.1" y1="1670.2" x2="1129.1" y2="1678.2" stroke-width="2.2" stroke-linecap="butt"/>
<line x1="1211.3" y1="1670.2" x2="1211.3" y2="1678.2" stroke-width="2.2" stroke-linecap="butt"/>
<line x1="1293.6" y1="1670.2" x2="1293.6" y2="1678.2" stroke-width="2.2" stroke-linecap="butt"/>
<text stroke-width="0.4" x="767.5" y="1708.2" font-size="29">IL-2 (U/ml):</text>
<text stroke-width="0.4" x="965.9" y="1708.2" font-size="29" text-anchor="middle">10</text>
<text stroke-width="0.4" x="1047.9" y="1708.2" font-size="29" text-anchor="middle">20</text>
<text stroke-width="0.4" x="1130.1" y="1708.2" font-size="29" text-anchor="middle">50</text>
<text stroke-width="0.4" x="1212.3" y="1708.2" font-size="29" text-anchor="middle">100</text>
<text stroke-width="0.4" x="1294.6" y="1708.2" font-size="29" text-anchor="middle">200</text>
<text stroke-width="0.4" x="845.0" y="1541.2" font-size="29" text-anchor="middle" transform="rotate(-90 845.0 1541.2)">Live cells (%)</text>
<line x1="948.0" y1="1504.0" x2="948.0" y2="1565.4" stroke-width="2" stroke-linecap="butt"/>
<line x1="942.5" y1="1504.0" x2="953.5" y2="1504.0" stroke-width="2" stroke-linecap="butt"/>
<line x1="942.5" y1="1565.4" x2="953.5" y2="1565.4" stroke-width="2" stroke-linecap="butt"/>
<line x1="939.5" y1="1534.5" x2="956.5" y2="1534.5" stroke-width="2" stroke-linecap="butt"/>
<circle cx="948.0" cy="1488.7" r="6.8" fill="none" stroke-width="1.9"/>
<circle cx="959.3" cy="1519.9" r="6.8" fill="none" stroke-width="1.9"/>
<circle cx="944.5" cy="1529.4" r="6.8" fill="none" stroke-width="1.9"/>
<circle cx="937.5" cy="1535.0" r="6.8" fill="none" stroke-width="1.9"/>
<circle cx="952.4" cy="1552.5" r="6.8" fill="none" stroke-width="1.9"/>
<circle cx="948.0" cy="1580.5" r="6.8" fill="none" stroke-width="1.9"/>
<line x1="980.9" y1="1611.0" x2="980.9" y2="1646.0" stroke-width="2" stroke-linecap="butt"/>
<line x1="975.4" y1="1611.0" x2="986.4" y2="1611.0" stroke-width="2" stroke-linecap="butt"/>
<line x1="975.4" y1="1646.0" x2="986.4" y2="1646.0" stroke-width="2" stroke-linecap="butt"/>
<line x1="972.4" y1="1625.5" x2="989.4" y2="1625.5" stroke-width="2" stroke-linecap="butt"/>
<circle cx="980.9" cy="1600.2" r="7.1" fill="#161616" stroke="none"/>
<circle cx="980.9" cy="1610.4" r="7.1" fill="#161616" stroke="none"/>
<circle cx="980.9" cy="1623.6" r="7.1" fill="#161616" stroke="none"/>
<circle cx="991.7" cy="1645.4" r="7.1" fill="#161616" stroke="none"/>
<circle cx="977.4" cy="1652.4" r="7.1" fill="#161616" stroke="none"/>
<line x1="1030.5" y1="1452.9" x2="1030.5" y2="1520.5" stroke-width="2" stroke-linecap="butt"/>
<line x1="1025.0" y1="1452.9" x2="1036.0" y2="1452.9" stroke-width="2" stroke-linecap="butt"/>
<line x1="1025.0" y1="1520.5" x2="1036.0" y2="1520.5" stroke-width="2" stroke-linecap="butt"/>
<line x1="1022.0" y1="1486.8" x2="1039.0" y2="1486.8" stroke-width="2" stroke-linecap="butt"/>
<circle cx="1041.5" cy="1441.8" r="6.8" fill="none" stroke-width="1.9"/>
<circle cx="1026.3" cy="1459.9" r="6.8" fill="none" stroke-width="1.9"/>
<circle cx="1030.5" cy="1483.0" r="6.8" fill="none" stroke-width="1.9"/>
<circle cx="1030.5" cy="1496.0" r="6.8" fill="none" stroke-width="1.9"/>
<circle cx="1030.5" cy="1500.5" r="6.8" fill="none" stroke-width="1.9"/>
<circle cx="1030.5" cy="1538.0" r="6.8" fill="none" stroke-width="1.9"/>
<line x1="1063.4" y1="1502.2" x2="1063.4" y2="1611.2" stroke-width="2" stroke-linecap="butt"/>
<line x1="1057.9" y1="1502.2" x2="1068.9" y2="1502.2" stroke-width="2" stroke-linecap="butt"/>
<line x1="1057.9" y1="1611.2" x2="1068.9" y2="1611.2" stroke-width="2" stroke-linecap="butt"/>
<line x1="1054.9" y1="1556.6" x2="1071.9" y2="1556.6" stroke-width="2" stroke-linecap="butt"/>
<circle cx="1063.4" cy="1492.2" r="7.1" fill="#161616" stroke="none"/>
<circle cx="1063.4" cy="1529.4" r="7.1" fill="#161616" stroke="none"/>
<circle cx="1063.4" cy="1539.6" r="7.1" fill="#161616" stroke="none"/>
<circle cx="1063.4" cy="1545.8" r="7.1" fill="#161616" stroke="none"/>
<circle cx="1063.4" cy="1580.8" r="7.1" fill="#161616" stroke="none"/>
<circle cx="1063.4" cy="1650.8" r="7.1" fill="#161616" stroke="none"/>
<line x1="1112.9" y1="1430.3" x2="1112.9" y2="1457.7" stroke-width="2" stroke-linecap="butt"/>
<line x1="1107.4" y1="1430.3" x2="1118.4" y2="1430.3" stroke-width="2" stroke-linecap="butt"/>
<line x1="1107.4" y1="1457.7" x2="1118.4" y2="1457.7" stroke-width="2" stroke-linecap="butt"/>
<line x1="1104.4" y1="1441.6" x2="1121.4" y2="1441.6" stroke-width="2" stroke-linecap="butt"/>
<circle cx="1112.9" cy="1427.8" r="6.8" fill="none" stroke-width="1.9"/>
<circle cx="1112.9" cy="1440.2" r="6.8" fill="none" stroke-width="1.9"/>
<circle cx="1112.9" cy="1441.8" r="6.8" fill="none" stroke-width="1.9"/>
<circle cx="1112.9" cy="1470.6" r="6.8" fill="none" stroke-width="1.9"/>
<line x1="1145.9" y1="1445.3" x2="1145.9" y2="1551.4" stroke-width="2" stroke-linecap="butt"/>
<line x1="1140.4" y1="1445.3" x2="1151.4" y2="1445.3" stroke-width="2" stroke-linecap="butt"/>
<line x1="1140.4" y1="1551.4" x2="1151.4" y2="1551.4" stroke-width="2" stroke-linecap="butt"/>
<line x1="1137.4" y1="1498.4" x2="1154.4" y2="1498.4" stroke-width="2" stroke-linecap="butt"/>
<circle cx="1145.9" cy="1445.3" r="7.1" fill="#161616" stroke="none"/>
<circle cx="1145.9" cy="1450.7" r="7.1" fill="#161616" stroke="none"/>
<circle cx="1145.9" cy="1462.3" r="7.1" fill="#161616" stroke="none"/>
<circle cx="1135.4" cy="1517.0" r="7.1" fill="#161616" stroke="none"/>
<circle cx="1150.1" cy="1536.6" r="7.1" fill="#161616" stroke="none"/>
<circle cx="1145.9" cy="1575.7" r="7.1" fill="#161616" stroke="none"/>
<circle cx="1195.2" cy="1413.0" r="6.8" fill="none" stroke-width="1.9"/>
<circle cx="1195.2" cy="1419.2" r="6.8" fill="none" stroke-width="1.9"/>
<circle cx="1195.2" cy="1422.7" r="6.8" fill="none" stroke-width="1.9"/>
<circle cx="1195.2" cy="1426.2" r="6.8" fill="none" stroke-width="1.9"/>
<circle cx="1195.2" cy="1431.3" r="6.8" fill="none" stroke-width="1.9"/>
<circle cx="1195.2" cy="1439.4" r="6.8" fill="none" stroke-width="1.9"/>
<line x1="1228.4" y1="1401.7" x2="1228.4" y2="1504.0" stroke-width="2" stroke-linecap="butt"/>
<line x1="1222.9" y1="1401.7" x2="1233.9" y2="1401.7" stroke-width="2" stroke-linecap="butt"/>
<line x1="1222.9" y1="1504.0" x2="1233.9" y2="1504.0" stroke-width="2" stroke-linecap="butt"/>
<line x1="1219.9" y1="1452.6" x2="1236.9" y2="1452.6" stroke-width="2" stroke-linecap="butt"/>
<circle cx="1217.6" cy="1414.4" r="7.1" fill="#161616" stroke="none"/>
<circle cx="1231.9" cy="1416.5" r="7.1" fill="#161616" stroke="none"/>
<circle cx="1238.9" cy="1422.7" r="7.1" fill="#161616" stroke="none"/>
<circle cx="1224.6" cy="1438.9" r="7.1" fill="#161616" stroke="none"/>
<circle cx="1228.4" cy="1479.0" r="7.1" fill="#161616" stroke="none"/>
<circle cx="1228.4" cy="1545.0" r="7.1" fill="#161616" stroke="none"/>
<circle cx="1266.0" cy="1418.9" r="6.8" fill="none" stroke-width="1.9"/>
<circle cx="1272.1" cy="1417.6" r="6.8" fill="none" stroke-width="1.9"/>
<circle cx="1280.0" cy="1409.0" r="6.8" fill="none" stroke-width="1.9"/>
<circle cx="1276.5" cy="1422.4" r="6.8" fill="none" stroke-width="1.9"/>
<circle cx="1287.9" cy="1421.6" r="6.8" fill="none" stroke-width="1.9"/>
<circle cx="1277.5" cy="1417.1" r="6.8" fill="none" stroke-width="1.9"/>
<line x1="1310.6" y1="1407.9" x2="1310.6" y2="1476.6" stroke-width="2" stroke-linecap="butt"/>
<line x1="1305.1" y1="1407.9" x2="1316.1" y2="1407.9" stroke-width="2" stroke-linecap="butt"/>
<line x1="1305.1" y1="1476.6" x2="1316.1" y2="1476.6" stroke-width="2" stroke-linecap="butt"/>
<line x1="1302.1" y1="1441.8" x2="1319.1" y2="1441.8" stroke-width="2" stroke-linecap="butt"/>
<circle cx="1300.1" cy="1420.6" r="7.1" fill="#161616" stroke="none"/>
<circle cx="1306.3" cy="1417.3" r="7.1" fill="#161616" stroke="none"/>
<circle cx="1312.4" cy="1422.7" r="7.1" fill="#161616" stroke="none"/>
<circle cx="1321.5" cy="1419.2" r="7.1" fill="#161616" stroke="none"/>
<circle cx="1321.5" cy="1477.7" r="7.1" fill="#161616" stroke="none"/>
<circle cx="1306.8" cy="1494.3" r="7.1" fill="#161616" stroke="none"/>
<circle cx="1322.5" cy="1577.5" r="12.3" fill="none" stroke-width="2"/>
<circle cx="1322.5" cy="1619.0" r="13.7" fill="#161616" stroke="none"/>
<text stroke-width="0.4" x="1345.2" y="1586.8" font-size="29">WT</text>
<text stroke-width="0.4" x="1345.2" y="1628.6" font-size="29">DKI</text>
<polyline points="929.7,1479.0 929.7,1469.5 1005.1,1469.5 1005.1,1479.0" fill="none" stroke-width="2" stroke-linejoin="miter"/>
<text stroke-width="0.4" x="962.5" y="1473.8" font-size="34" text-anchor="middle" letter-spacing="1" class="ast">***</text>
<polyline points="1013.1,1429.3 1013.1,1419.8 1088.1,1419.8 1088.1,1429.3" fill="none" stroke-width="2" stroke-linejoin="miter"/>
<text stroke-width="0.4" x="1047.8" y="1423.6" font-size="34" text-anchor="middle" letter-spacing="1" class="ast">**</text>
</g>
</svg>
</body></html>
